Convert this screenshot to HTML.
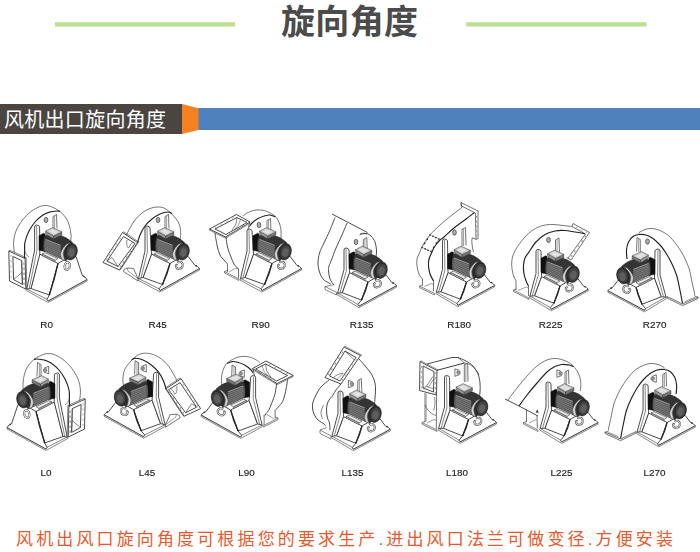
<!DOCTYPE html>
<html><head><meta charset="utf-8"><title>旋向角度</title>
<style>
html,body{margin:0;padding:0;background:#fff;}
body{width:700px;height:552px;overflow:hidden;font-family:"Liberation Sans",sans-serif;}
svg{display:block}
svg text{font-family:"Liberation Sans",sans-serif;font-size:9.9px;fill:#222;stroke:#222;stroke-width:0.15px;}
</style></head><body>
<svg width="700" height="552" viewBox="0 0 700 552">
<rect width="700" height="552" fill="#fff"/>
<rect x="55" y="22.2" width="180" height="4.3" fill="#bce091"/>
<rect x="466.3" y="22.2" width="180.2" height="4.3" fill="#bce091"/>
<text x="349.5" y="33.5" text-anchor="middle" textLength="137" lengthAdjust="spacing" style="font-family:'Liberation Sans','Noto Sans CJK SC',sans-serif;font-size:34px;font-weight:bold;fill:#4b4b4b;stroke:none;">旋向角度</text>
<rect x="198" y="108" width="502" height="22" fill="#4f81bd"/>
<rect x="0" y="104" width="182.5" height="30" fill="#4a4541"/>
<path d="M182 104 L198.5 108.2 L198.5 130 L182 134Z" fill="#f5821f"/>
<text x="4" y="127.3" textLength="162" lengthAdjust="spacing" style="font-family:'Liberation Sans','Noto Sans CJK SC',sans-serif;font-size:20px;fill:#fff;stroke:none;">风机出口旋向角度</text>
<text x="16" y="544.5" textLength="657" lengthAdjust="spacing" style="font-family:'Liberation Sans','Noto Sans CJK SC',sans-serif;font-size:17px;fill:#e9592b;stroke:none;">风机出风口旋向角度可根据您的要求生产.进出风口法兰可做变径.方便安装</text>
<g style="filter:blur(0.42px)"><g id="R0"><path d="M14.3 252.5C14.2 250.8 13.3 245.6 13.6 242.0C13.9 238.4 14.5 234.7 16.0 231.0C17.5 227.3 20.0 223.2 22.5 220.0C25.0 216.8 28.1 213.8 31.0 211.5C33.9 209.2 37.5 207.5 40.0 206.5C42.5 205.5 44.0 205.4 46.0 205.5C48.0 205.6 49.7 206.0 52.0 207.0C54.3 208.0 57.7 209.7 60.0 211.5C62.3 213.3 64.4 215.6 66.0 218.0C67.6 220.4 68.7 223.2 69.5 226.0C70.3 228.8 70.8 232.2 71.0 235.0C71.2 237.8 70.6 241.7 70.5 243.0 L70 246 L40 250 L24.5 258.5 Z" fill="#fff" stroke="none" stroke-width="0.9" />
<path d="M14.3 252.5C14.2 250.8 13.3 245.6 13.6 242.0C13.9 238.4 14.5 234.7 16.0 231.0C17.5 227.3 20.0 223.2 22.5 220.0C25.0 216.8 28.1 213.8 31.0 211.5C33.9 209.2 37.5 207.5 40.0 206.5C42.5 205.5 44.0 205.4 46.0 205.5C48.0 205.6 49.7 206.0 52.0 207.0C54.3 208.0 57.7 209.7 60.0 211.5C62.3 213.3 64.4 215.6 66.0 218.0C67.6 220.4 68.7 223.2 69.5 226.0C70.3 228.8 70.8 232.2 71.0 235.0C71.2 237.8 70.6 241.7 70.5 243.0" fill="none" stroke="#4a4a4a" stroke-width="0.75" />
<path d="M24.5 258.5C24.5 257.1 24.5 252.8 24.6 250.0C24.7 247.2 24.3 245.2 25.0 242.0C25.7 238.8 27.3 234.3 29.0 231.0C30.7 227.7 32.7 224.7 35.0 222.0C37.3 219.3 40.5 216.7 43.0 215.0C45.5 213.3 47.7 212.7 50.0 212.0C52.3 211.3 55.3 211.1 57.0 211.0C58.7 210.9 59.5 211.4 60.0 211.5" fill="none" stroke="#222" stroke-width="1.15" />
<path d="M53.0 229.0 L53.0 216.5 L56.5 214.5 L57.0 228.5" fill="none" stroke="#383838" stroke-width="0.7" /><path d="M54.6 229.0 L54.6 216.0" fill="none" stroke="#383838" stroke-width="0.5" />
<ellipse cx="46" cy="220" rx="1.9" ry="2.7" fill="#aaa" stroke="#333" stroke-width="0.6"/>
<path d="M8.8 251.1 L25.1 258.6 L25.8 289.1 L9.5 281.0Z" fill="#fff" stroke="#383838" stroke-width="0.9" />
<path d="M12.9 256.5 L21.7 260.6 L22.4 284.4 L13.6 279.6Z" fill="#fff" stroke="#383838" stroke-width="0.9" />
<path d="M13.6 279.6 L21.9 272.5 L22.4 284.4" fill="none" stroke="#383838" stroke-width="0.6" />
<path d="M21.9 272.5 L21.7 260.6" fill="none" stroke="#383838" stroke-width="0.5" />
<path d="M8.8 251.1 L10.0 250.3 L26.2 257.7 L25.1 258.6" fill="none" stroke="#383838" stroke-width="0.6" />
<path d="M26.2 257.7 L26.8 288.4 L25.8 289.1" fill="none" stroke="#383838" stroke-width="0.6" />
<rect x="23.2" y="262.5" width="1.6" height="2.4" fill="#aaa"/>
<rect x="23.2" y="267.5" width="1.6" height="2.4" fill="#aaa"/>
<rect x="23.2" y="272.5" width="1.6" height="2.4" fill="#aaa"/>
<rect x="23.2" y="277.5" width="1.6" height="2.4" fill="#aaa"/>
<rect x="23.2" y="282.5" width="1.6" height="2.4" fill="#aaa"/>
<rect x="10.3" y="255.0" width="1.4" height="2.2" fill="#ccc"/>
<rect x="10.3" y="260.2" width="1.4" height="2.2" fill="#ccc"/>
<rect x="10.3" y="265.4" width="1.4" height="2.2" fill="#ccc"/>
<rect x="10.3" y="270.6" width="1.4" height="2.2" fill="#ccc"/>
<rect x="10.3" y="275.8" width="1.4" height="2.2" fill="#ccc"/>
<path d="M24.5 250 C 25.5 254 27 256 29 257" fill="none" stroke="#383838" stroke-width="0.6" /><g transform="translate(0 0)"><path d="M26.8 289.0 L47.0 299.3 L48.0 301.0 L87.0 279.5 L87.0 281.0 L48.0 302.5 L26.3 290.5Z" fill="#fff" stroke="#383838" stroke-width="0.6" />
<path d="M39.5 254.0 L58.0 263.5 L49.3 295.0 L31.0 288.5Z" fill="#fff" stroke="#383838" stroke-width="0.9" />
<path d="M58.0 263.5 L64.0 260.0 L76.0 256.5 L82.5 276.0 L85.0 277.0 L87.0 279.5 L48.0 301.0 L47.0 299.3 L49.3 295.0Z" fill="#fff" stroke="#383838" stroke-width="0.9" />
<path d="M58.0 263.5 L54.2 279.2 L49.3 295.0" fill="none" stroke="#222" stroke-width="1.2" />
<path d="M34.6 227.0 L35.0 225.6 L36.6 225.0 L38.8 225.6 L39.6 227.0 L39.8 254.0 L31.0 288.5 L26.8 289.0 L34.6 250.0Z" fill="#fff" stroke="#383838" stroke-width="0.9" />
<path d="M36.6 226.0 L37.0 250.0 L29.3 288.3" fill="none" stroke="#383838" stroke-width="0.6" />
<path d="M42.0 254.0 L45.0 252.5 L58.0 258.5 L55.0 260.5Z" fill="#e4e4e4" stroke="#383838" stroke-width="0.6" />
<path d="M42.0 254.0 L55.0 260.5 L55.0 262.0 L42.0 255.5Z" fill="#bbb" stroke="#383838" stroke-width="0.5" />
<ellipse cx="67.2" cy="266" rx="2.6" ry="3.9" transform="rotate(12 67.2 266)" fill="none" stroke="#555" stroke-width="2.1"/>
<ellipse cx="67.2" cy="266" rx="2.6" ry="3.9" transform="rotate(12 67.2 266)" fill="none" stroke="#fff" stroke-width="0.9"/>
<circle cx="83.7" cy="276.2" r="0.8" fill="#333"/>
<circle cx="49.5" cy="294.4" r="0.8" fill="#222"/>
<path d="M39.0 235.8 L43.5 233.3 L45.0 234.0 L45.0 251.6 L39.0 250.2Z" fill="#111" stroke="#111" stroke-width="0.5" />
<path d="M44.2 237.3 C44.8 235.8 46 235 48 235 L59.7 235.6 C63 236 68 238.5 72.5 242.5 L66 261 L61.9 259.2 L43.8 250.6 C43.2 247 43.4 241 44.2 237.3Z" fill="#343434" stroke="#222" stroke-width="0.6" />
<path d="M44.4 239.2 L61 245.6 C60.2 250 60.4 255 61.9 259.2 L43.8 250.6 C43.4 247 43.6 242 44.4 239.2Z" fill="#585858" stroke="none" stroke-width="0.9" />
<path d="M45.2 241.2 L60.8 247.5" stroke="#9c9c9c" stroke-width="0.5" fill="none"/>
<path d="M45.2 242.9 L60.8 249.6" stroke="#9c9c9c" stroke-width="0.5" fill="none"/>
<path d="M45.2 244.6 L60.8 251.7" stroke="#9c9c9c" stroke-width="0.5" fill="none"/>
<path d="M45.2 246.4 L60.8 253.9" stroke="#9c9c9c" stroke-width="0.5" fill="none"/>
<path d="M45.2 248.1 L60.8 256.0" stroke="#9c9c9c" stroke-width="0.5" fill="none"/>
<path d="M45.2 249.8 L60.8 258.1" stroke="#9c9c9c" stroke-width="0.5" fill="none"/>
<path d="M45.4 239.4 L60.6 245.3" stroke="#c4c4c4" stroke-width="0.7" fill="none"/>
<path d="M66.6 244.3C65.9 245.1 63.6 247.3 62.6 248.9C61.6 250.5 60.8 252.3 60.7 254.0C60.6 255.7 61.7 258.3 61.9 259.2 L65.0 260.6C64.8 260.1 64.2 259.0 63.9 257.6C63.6 256.2 63.0 254.2 63.3 252.5C63.6 250.8 64.4 249.1 65.5 247.5C66.6 245.9 69.2 243.8 70.0 243.0Z" fill="#d4d4d4" stroke="#555" stroke-width="0.4" />
<ellipse cx="71.1" cy="251.7" rx="6.1" ry="8.4" transform="rotate(14 71.1 251.7)" fill="#2f2f2f" stroke="#222" stroke-width="0.5"/>
<ellipse cx="71.5" cy="252" rx="5.2" ry="7" transform="rotate(14 71.5 252)" fill="#444" stroke="#262626" stroke-width="0.5"/>
<ellipse cx="71.5" cy="252.6" rx="3.1" ry="4.3" transform="rotate(14 71.5 252.6)" fill="#5e5e5e" stroke="none"/>
<path d="M45.6 231.2 L53.6 235.9 L53.6 238.9 L45.6 234.2Z" fill="#9a9a9a" stroke="#383838" stroke-width="0.5" />
<path d="M53.6 235.9 L61.9 231.9 L61.9 234.9 L53.6 238.9Z" fill="#777" stroke="#383838" stroke-width="0.5" />
<path d="M45.6 231.2 L52.5 227.7 L61.9 231.9 L53.6 235.9Z" fill="#e2e2e2" stroke="#383838" stroke-width="0.6" />
<path d="M47.3 231.2 L52.5 228.7 L60.0 231.9 L53.7 234.9Z" fill="none" stroke="#999" stroke-width="0.35" /></g></g>
<g id="R45"><path d="M126.5 235.0C127.1 233.8 128.6 230.5 130.0 228.0C131.4 225.5 133.0 222.5 135.0 220.0C137.0 217.5 139.5 214.9 142.0 213.0C144.5 211.1 147.3 209.5 150.0 208.5C152.7 207.5 155.5 207.0 158.0 207.0C160.5 207.0 162.7 207.3 165.0 208.5C167.3 209.7 169.4 211.5 171.7 213.9C174.0 216.3 177.2 219.8 178.7 222.9C180.2 226.1 180.5 229.7 180.7 232.8C180.9 236.0 179.9 240.3 179.7 241.8 L170 250 L146 250 L137.5 243 Z" fill="#fff" stroke="none" stroke-width="0.9" />
<path d="M126.5 235.0C127.1 233.8 128.6 230.5 130.0 228.0C131.4 225.5 133.0 222.5 135.0 220.0C137.0 217.5 139.5 214.9 142.0 213.0C144.5 211.1 147.3 209.5 150.0 208.5C152.7 207.5 155.5 207.0 158.0 207.0C160.5 207.0 162.7 207.3 165.0 208.5C167.3 209.7 169.4 211.5 171.7 213.9C174.0 216.3 177.2 219.8 178.7 222.9C180.2 226.1 180.5 229.7 180.7 232.8C180.9 236.0 179.9 240.3 179.7 241.8" fill="none" stroke="#4a4a4a" stroke-width="0.75" />
<path d="M137.5 243.0C137.9 241.7 138.8 237.8 140.0 235.0C141.2 232.2 143.0 228.7 145.0 226.0C147.0 223.3 149.5 221.0 152.0 219.0C154.5 217.0 157.3 215.2 160.0 214.0C162.7 212.8 166.0 212.1 168.0 212.0C170.0 211.9 171.3 213.4 172.0 213.7" fill="none" stroke="#222" stroke-width="1.15" />
<path d="M165.0 229.0 L165.0 216.5 L168.5 214.5 L169.0 228.5" fill="none" stroke="#383838" stroke-width="0.7" /><path d="M166.6 229.0 L166.6 216.0" fill="none" stroke="#383838" stroke-width="0.5" />
<ellipse cx="158" cy="220" rx="1.9" ry="2.7" fill="#aaa" stroke="#333" stroke-width="0.6"/>
<path d="M122.5 232.5 L137.5 242.5 L119.5 270.0 L103.0 262.5Z" fill="#fff" stroke="#383838" stroke-width="0.9" />
<path d="M123.5 236.5 L135.0 243.5 L118.0 266.5 L107.0 261.0Z" fill="#fff" stroke="#383838" stroke-width="0.9" />
<path d="M122.5 232.5 L123.6 231.8 L138.6 241.8 L137.5 242.5" fill="none" stroke="#383838" stroke-width="0.6" />
<path d="M138.6 241.8 L120.6 269.5 L119.5 270.0" fill="none" stroke="#383838" stroke-width="0.6" />
<path d="M107.0 261.0 L112.0 257.5 L118.0 266.5" fill="none" stroke="#383838" stroke-width="0.6" />
<path d="M127 240 C126 244 127.5 248 128.8 248 C130 246 130.5 243.5 133 242.3" fill="none" stroke="#383838" stroke-width="0.6" />
<rect x="119.4" y="237.4" width="1.5" height="2" fill="#bbb"/>
<rect x="133.1" y="245.8" width="1.5" height="2" fill="#aaa"/>
<rect x="115.8" y="242.9" width="1.5" height="2" fill="#bbb"/>
<rect x="129.6" y="250.9" width="1.5" height="2" fill="#aaa"/>
<rect x="112.2" y="248.4" width="1.5" height="2" fill="#bbb"/>
<rect x="126.1" y="256.0" width="1.5" height="2" fill="#aaa"/>
<rect x="108.6" y="253.9" width="1.5" height="2" fill="#bbb"/>
<rect x="122.5" y="261.1" width="1.5" height="2" fill="#aaa"/>
<rect x="105.5" y="258.6" width="1.5" height="2" fill="#bbb"/>
<rect x="119.5" y="265.5" width="1.5" height="2" fill="#aaa"/>
<path d="M124.0 269.5 L127.0 268.0 L133.5 268.5 L138.0 278.5 L138.0 281.0 L123.5 271.5Z" fill="#fff" stroke="#383838" stroke-width="0.7" />
<path d="M127.0 268.0 L128.0 271.0 L138.0 278.5" fill="none" stroke="#383838" stroke-width="0.5" /><g transform="translate(112 0)"><path d="M26.5 278.5 L47.0 288.8 L48.0 290.5 L87.5 268.5 L87.5 270.0 L48.0 292.0 L26.0 280.0Z" fill="#fff" stroke="#383838" stroke-width="0.6" />
<path d="M39.5 254.0 L58.0 263.5 L50.5 284.5 L31.0 277.5Z" fill="#fff" stroke="#383838" stroke-width="0.9" />
<path d="M58.0 263.5 L64.0 260.0 L76.0 256.3 L83.0 265.5 L85.5 266.5 L87.5 268.5 L48.0 290.5 L47.0 288.8 L50.5 284.5Z" fill="#fff" stroke="#383838" stroke-width="0.9" />
<path d="M58.0 263.5 L54.9 274.0 L50.5 284.5" fill="none" stroke="#222" stroke-width="1.2" />
<path d="M33.0 228.0 L33.4 226.6 L35.0 226.0 L37.2 226.6 L38.0 228.0 L39.5 254.0 L31.0 277.5 L26.5 278.5 L33.0 251.0Z" fill="#fff" stroke="#383838" stroke-width="0.9" />
<path d="M35.0 227.0 L35.4 252.0 L29.0 277.8" fill="none" stroke="#383838" stroke-width="0.6" />
<path d="M42.0 254.0 L45.0 252.5 L58.0 258.5 L55.0 260.5Z" fill="#e4e4e4" stroke="#383838" stroke-width="0.6" />
<path d="M42.0 254.0 L55.0 260.5 L55.0 262.0 L42.0 255.5Z" fill="#bbb" stroke="#383838" stroke-width="0.5" />
<path d="M66.2 262.2 C69.5 260.8 71.6 263.5 70.6 266.3 C69.6 269.2 65.6 269.8 64.2 267.2 C63.7 266.2 64 265.2 64.8 264.8" fill="none" stroke="#555" stroke-width="2.1" stroke-linecap="round"/>
<path d="M66.2 262.2 C69.5 260.8 71.6 263.5 70.6 266.3 C69.6 269.2 65.6 269.8 64.2 267.2 C63.7 266.2 64 265.2 64.8 264.8" fill="none" stroke="#fff" stroke-width="0.9" stroke-linecap="round"/>
<circle cx="84.2" cy="265.7" r="0.8" fill="#333"/>
<circle cx="50.7" cy="283.9" r="0.8" fill="#222"/>
<path d="M39.0 235.8 L43.5 233.3 L45.0 234.0 L45.0 251.6 L39.0 250.2Z" fill="#111" stroke="#111" stroke-width="0.5" />
<path d="M44.2 237.3 C44.8 235.8 46 235 48 235 L59.7 235.6 C63 236 68 238.5 72.5 242.5 L66 261 L61.9 259.2 L43.8 250.6 C43.2 247 43.4 241 44.2 237.3Z" fill="#343434" stroke="#222" stroke-width="0.6" />
<path d="M44.4 239.2 L61 245.6 C60.2 250 60.4 255 61.9 259.2 L43.8 250.6 C43.4 247 43.6 242 44.4 239.2Z" fill="#585858" stroke="none" stroke-width="0.9" />
<path d="M45.2 241.2 L60.8 247.5" stroke="#9c9c9c" stroke-width="0.5" fill="none"/>
<path d="M45.2 242.9 L60.8 249.6" stroke="#9c9c9c" stroke-width="0.5" fill="none"/>
<path d="M45.2 244.6 L60.8 251.7" stroke="#9c9c9c" stroke-width="0.5" fill="none"/>
<path d="M45.2 246.4 L60.8 253.9" stroke="#9c9c9c" stroke-width="0.5" fill="none"/>
<path d="M45.2 248.1 L60.8 256.0" stroke="#9c9c9c" stroke-width="0.5" fill="none"/>
<path d="M45.2 249.8 L60.8 258.1" stroke="#9c9c9c" stroke-width="0.5" fill="none"/>
<path d="M45.4 239.4 L60.6 245.3" stroke="#c4c4c4" stroke-width="0.7" fill="none"/>
<path d="M66.6 244.3C65.9 245.1 63.6 247.3 62.6 248.9C61.6 250.5 60.8 252.3 60.7 254.0C60.6 255.7 61.7 258.3 61.9 259.2 L65.0 260.6C64.8 260.1 64.2 259.0 63.9 257.6C63.6 256.2 63.0 254.2 63.3 252.5C63.6 250.8 64.4 249.1 65.5 247.5C66.6 245.9 69.2 243.8 70.0 243.0Z" fill="#d4d4d4" stroke="#555" stroke-width="0.4" />
<ellipse cx="71.1" cy="251.7" rx="6.1" ry="8.4" transform="rotate(14 71.1 251.7)" fill="#2f2f2f" stroke="#222" stroke-width="0.5"/>
<ellipse cx="71.5" cy="252" rx="5.2" ry="7" transform="rotate(14 71.5 252)" fill="#444" stroke="#262626" stroke-width="0.5"/>
<ellipse cx="71.5" cy="252.6" rx="3.1" ry="4.3" transform="rotate(14 71.5 252.6)" fill="#5e5e5e" stroke="none"/>
<path d="M45.6 231.2 L53.6 235.9 L53.6 238.9 L45.6 234.2Z" fill="#9a9a9a" stroke="#383838" stroke-width="0.5" />
<path d="M53.6 235.9 L61.9 231.9 L61.9 234.9 L53.6 238.9Z" fill="#777" stroke="#383838" stroke-width="0.5" />
<path d="M45.6 231.2 L52.5 227.7 L61.9 231.9 L53.6 235.9Z" fill="#e2e2e2" stroke="#383838" stroke-width="0.6" />
<path d="M47.3 231.2 L52.5 228.7 L60.0 231.9 L53.7 234.9Z" fill="none" stroke="#999" stroke-width="0.35" /></g></g>
<g id="R90"><path d="M243.0 216.0C243.8 215.4 245.8 213.5 248.0 212.5C250.2 211.5 253.3 210.3 256.0 210.0C258.7 209.7 261.7 210.0 264.0 210.5C266.3 211.0 267.9 211.8 270.0 213.0C272.1 214.2 274.9 215.4 276.7 217.9C278.5 220.4 280.0 224.4 280.7 227.9C281.4 231.4 280.9 237.0 281.0 238.8 L270 250 L248 250 L240 225 Z" fill="#fff" stroke="none" stroke-width="0.9" />
<path d="M243.0 216.0C243.8 215.4 245.8 213.5 248.0 212.5C250.2 211.5 253.3 210.3 256.0 210.0C258.7 209.7 261.7 210.0 264.0 210.5C266.3 211.0 267.9 211.8 270.0 213.0C272.1 214.2 274.9 215.4 276.7 217.9C278.5 220.4 280.0 224.4 280.7 227.9C281.4 231.4 280.9 237.0 281.0 238.8" fill="none" stroke="#4a4a4a" stroke-width="0.75" />
<path d="M248.0 228.5C248.7 227.6 250.3 224.7 252.0 223.0C253.7 221.3 255.8 219.7 258.0 218.5C260.2 217.3 263.0 216.4 265.0 215.8C267.0 215.2 268.2 214.8 270.0 215.0C271.8 215.2 274.6 216.5 275.5 216.8" fill="none" stroke="#222" stroke-width="1.15" />
<path d="M267.0 233.0 L267.0 220.5 L270.5 218.5 L271.0 232.5" fill="none" stroke="#383838" stroke-width="0.7" /><path d="M268.6 233.0 L268.6 220.0" fill="none" stroke="#383838" stroke-width="0.5" />
<ellipse cx="259" cy="225" rx="1.9" ry="2.7" fill="#aaa" stroke="#333" stroke-width="0.6"/>
<path d="M215.0 233.0C215.3 235.0 216.2 241.3 217.0 245.0C217.8 248.7 218.8 252.5 220.0 255.0C221.2 257.5 222.8 258.5 224.0 260.0C225.2 261.5 226.9 263.3 227.5 264.0 L238.5 269 L248 260 L249.5 223 L226 237 Z" fill="#fff" stroke="none" stroke-width="0.9" />
<path d="M215.0 233.0C215.3 235.0 216.2 241.3 217.0 245.0C217.8 248.7 218.8 252.5 220.0 255.0C221.2 257.5 222.8 258.5 224.0 260.0C225.2 261.5 226.9 263.3 227.5 264.0" fill="none" stroke="#383838" stroke-width="0.9" />
<path d="M226.0 237.0C226.2 238.7 226.7 243.7 227.5 247.0C228.3 250.3 229.9 254.2 231.0 257.0C232.1 259.8 232.8 262.0 234.0 264.0C235.2 266.0 237.8 268.2 238.5 269.0" fill="none" stroke="#383838" stroke-width="0.9" />
<path d="M249.5 223.0 L248.0 229.5" fill="none" stroke="#383838" stroke-width="0.7" />
<path d="M227.5 264.0 L227.5 272.0" fill="none" stroke="#383838" stroke-width="0.7" />
<path d="M238.5 269.0 L238.5 278.5" fill="none" stroke="#383838" stroke-width="0.7" />
<path d="M224.5 271.5 L227.5 270.3" fill="none" stroke="#383838" stroke-width="0.6" />
<path d="M224.5 271.5 L239.0 279.0 L239.0 280.5 L224.5 273.0Z" fill="#fff" stroke="#383838" stroke-width="0.6" />
<path d="M229.0 272.0 L236.0 268.0 L238.5 269.0" fill="none" stroke="#383838" stroke-width="0.5" />
<path d="M209.5 229.0 L236.5 214.5 L250.0 222.0 L225.5 237.0Z" fill="#fff" stroke="#383838" stroke-width="0.9" />
<path d="M215.0 229.0 L237.0 217.5 L247.0 222.5 L226.0 234.5Z" fill="#fff" stroke="#383838" stroke-width="0.9" />
<path d="M209.5 229.0 L209.6 230.2 L225.5 238.2 L250.0 223.2 L250.0 222.0" fill="none" stroke="#383838" stroke-width="0.6" />
<path d="M237.0 217.5 L236.0 224.0 L232.0 230.5" fill="none" stroke="#383838" stroke-width="0.6" />
<path d="M240.5 219.3 L238.5 225.0 L234.5 229.5" fill="none" stroke="#383838" stroke-width="0.5" />
<rect x="214.7" y="226.5" width="2" height="1.2" fill="#bbb"/>
<rect x="228.4" y="233.2" width="2" height="1.2" fill="#bbb"/>
<rect x="220.3" y="223.5" width="2" height="1.2" fill="#bbb"/>
<rect x="233.6" y="230.1" width="2" height="1.2" fill="#bbb"/>
<rect x="226.2" y="220.3" width="2" height="1.2" fill="#bbb"/>
<rect x="238.9" y="226.8" width="2" height="1.2" fill="#bbb"/>
<rect x="231.8" y="217.3" width="2" height="1.2" fill="#bbb"/>
<rect x="244.1" y="223.7" width="2" height="1.2" fill="#bbb"/><g transform="translate(214 0)"><path d="M26.5 278.5 L47.0 288.8 L48.0 290.5 L87.5 268.5 L87.5 270.0 L48.0 292.0 L26.0 280.0Z" fill="#fff" stroke="#383838" stroke-width="0.6" />
<path d="M39.5 254.0 L58.0 263.5 L50.5 284.5 L31.0 277.5Z" fill="#fff" stroke="#383838" stroke-width="0.9" />
<path d="M58.0 263.5 L64.0 260.0 L76.0 256.3 L83.0 265.5 L85.5 266.5 L87.5 268.5 L48.0 290.5 L47.0 288.8 L50.5 284.5Z" fill="#fff" stroke="#383838" stroke-width="0.9" />
<path d="M58.0 263.5 L54.9 274.0 L50.5 284.5" fill="none" stroke="#222" stroke-width="1.2" />
<path d="M33.0 231.0 L33.4 229.6 L35.0 229.0 L37.2 229.6 L38.0 231.0 L39.5 254.0 L31.0 277.5 L26.5 278.5 L33.0 251.0Z" fill="#fff" stroke="#383838" stroke-width="0.9" />
<path d="M35.0 230.0 L35.4 252.0 L29.0 277.8" fill="none" stroke="#383838" stroke-width="0.6" />
<path d="M42.0 254.0 L45.0 252.5 L58.0 258.5 L55.0 260.5Z" fill="#e4e4e4" stroke="#383838" stroke-width="0.6" />
<path d="M42.0 254.0 L55.0 260.5 L55.0 262.0 L42.0 255.5Z" fill="#bbb" stroke="#383838" stroke-width="0.5" />
<path d="M66.2 262.2 C69.5 260.8 71.6 263.5 70.6 266.3 C69.6 269.2 65.6 269.8 64.2 267.2 C63.7 266.2 64 265.2 64.8 264.8" fill="none" stroke="#555" stroke-width="2.1" stroke-linecap="round"/>
<path d="M66.2 262.2 C69.5 260.8 71.6 263.5 70.6 266.3 C69.6 269.2 65.6 269.8 64.2 267.2 C63.7 266.2 64 265.2 64.8 264.8" fill="none" stroke="#fff" stroke-width="0.9" stroke-linecap="round"/>
<circle cx="84.2" cy="265.7" r="0.8" fill="#333"/>
<circle cx="50.7" cy="283.9" r="0.8" fill="#222"/>
<path d="M39.0 235.8 L43.5 233.3 L45.0 234.0 L45.0 251.6 L39.0 250.2Z" fill="#111" stroke="#111" stroke-width="0.5" />
<path d="M44.2 237.3 C44.8 235.8 46 235 48 235 L59.7 235.6 C63 236 68 238.5 72.5 242.5 L66 261 L61.9 259.2 L43.8 250.6 C43.2 247 43.4 241 44.2 237.3Z" fill="#343434" stroke="#222" stroke-width="0.6" />
<path d="M44.4 239.2 L61 245.6 C60.2 250 60.4 255 61.9 259.2 L43.8 250.6 C43.4 247 43.6 242 44.4 239.2Z" fill="#585858" stroke="none" stroke-width="0.9" />
<path d="M45.2 241.2 L60.8 247.5" stroke="#9c9c9c" stroke-width="0.5" fill="none"/>
<path d="M45.2 242.9 L60.8 249.6" stroke="#9c9c9c" stroke-width="0.5" fill="none"/>
<path d="M45.2 244.6 L60.8 251.7" stroke="#9c9c9c" stroke-width="0.5" fill="none"/>
<path d="M45.2 246.4 L60.8 253.9" stroke="#9c9c9c" stroke-width="0.5" fill="none"/>
<path d="M45.2 248.1 L60.8 256.0" stroke="#9c9c9c" stroke-width="0.5" fill="none"/>
<path d="M45.2 249.8 L60.8 258.1" stroke="#9c9c9c" stroke-width="0.5" fill="none"/>
<path d="M45.4 239.4 L60.6 245.3" stroke="#c4c4c4" stroke-width="0.7" fill="none"/>
<path d="M66.6 244.3C65.9 245.1 63.6 247.3 62.6 248.9C61.6 250.5 60.8 252.3 60.7 254.0C60.6 255.7 61.7 258.3 61.9 259.2 L65.0 260.6C64.8 260.1 64.2 259.0 63.9 257.6C63.6 256.2 63.0 254.2 63.3 252.5C63.6 250.8 64.4 249.1 65.5 247.5C66.6 245.9 69.2 243.8 70.0 243.0Z" fill="#d4d4d4" stroke="#555" stroke-width="0.4" />
<ellipse cx="71.1" cy="251.7" rx="6.1" ry="8.4" transform="rotate(14 71.1 251.7)" fill="#2f2f2f" stroke="#222" stroke-width="0.5"/>
<ellipse cx="71.5" cy="252" rx="5.2" ry="7" transform="rotate(14 71.5 252)" fill="#444" stroke="#262626" stroke-width="0.5"/>
<ellipse cx="71.5" cy="252.6" rx="3.1" ry="4.3" transform="rotate(14 71.5 252.6)" fill="#5e5e5e" stroke="none"/>
<path d="M45.6 231.2 L53.6 235.9 L53.6 238.9 L45.6 234.2Z" fill="#9a9a9a" stroke="#383838" stroke-width="0.5" />
<path d="M53.6 235.9 L61.9 231.9 L61.9 234.9 L53.6 238.9Z" fill="#777" stroke="#383838" stroke-width="0.5" />
<path d="M45.6 231.2 L52.5 227.7 L61.9 231.9 L53.6 235.9Z" fill="#e2e2e2" stroke="#383838" stroke-width="0.6" />
<path d="M47.3 231.2 L52.5 228.7 L60.0 231.9 L53.7 234.9Z" fill="none" stroke="#999" stroke-width="0.35" /></g></g>
<g id="R135"><path d="M335.0 217.5C334.2 219.6 331.8 225.8 330.0 230.0C328.2 234.2 325.8 239.2 324.0 243.0C322.2 246.8 320.5 249.7 319.5 253.0C318.5 256.3 318.0 259.8 318.0 263.0C318.0 266.2 318.7 269.3 319.5 272.0C320.3 274.7 321.6 277.2 323.0 279.0C324.4 280.8 326.7 281.7 328.0 282.5C329.3 283.3 330.5 283.8 331.0 284.0 L334 285 L350 280 L376 257 L367.5 232.5 L347 222 Z" fill="#fff" stroke="none" stroke-width="0.9" />
<path d="M335.0 217.5C334.2 219.6 331.8 225.8 330.0 230.0C328.2 234.2 325.8 239.2 324.0 243.0C322.2 246.8 320.5 249.7 319.5 253.0C318.5 256.3 318.0 259.8 318.0 263.0C318.0 266.2 318.7 269.3 319.5 272.0C320.3 274.7 321.6 277.2 323.0 279.0C324.4 280.8 326.7 281.7 328.0 282.5C329.3 283.3 330.5 283.8 331.0 284.0" fill="none" stroke="#383838" stroke-width="0.9" />
<path d="M347.0 223.0C346.2 225.0 343.8 230.8 342.0 235.0C340.2 239.2 337.8 243.8 336.0 248.0C334.2 252.2 332.7 257.0 331.5 260.0C330.3 263.0 329.5 264.2 329.0 266.0C328.5 267.8 328.3 268.8 328.5 271.0C328.7 273.2 329.1 276.7 330.0 279.0C330.9 281.3 333.3 284.0 334.0 285.0" fill="none" stroke="#383838" stroke-width="0.9" />
<path d="M332.0 214.0 L367.5 232.5" fill="none" stroke="#383838" stroke-width="0.9" />
<path d="M360.0 234.3C361.0 234.2 364.2 233.2 366.0 233.5C367.8 233.8 369.5 234.6 371.0 236.0C372.5 237.4 374.1 239.7 375.0 242.0C375.9 244.3 376.3 247.5 376.5 250.0C376.7 252.5 376.1 255.8 376.0 257.0" fill="none" stroke="#383838" stroke-width="0.9" />
<path d="M359.5 235 C360.5 233.2 364 232.6 367.3 234" fill="none" stroke="#383838" stroke-width="0.7" />
<ellipse cx="356" cy="242" rx="1.9" ry="2.7" fill="#aaa" stroke="#333" stroke-width="0.6"/>
<path d="M363.3 252.0 L363.3 239.5 L366.8 237.5 L367.3 251.5" fill="none" stroke="#383838" stroke-width="0.7" /><path d="M364.9 252.0 L364.9 239.0" fill="none" stroke="#383838" stroke-width="0.5" />
<path d="M325.0 286.5 L333.5 284.8" fill="none" stroke="#383838" stroke-width="0.6" />
<path d="M325.0 286.5 L336.5 292.3 L336.5 295.0 L325.0 289.5Z" fill="#fff" stroke="#383838" stroke-width="0.6" /><g transform="translate(310 18.5)"><path d="M27.6 274.6 L48.0 285.9 L49.0 287.6 L86.5 267.2 L86.5 268.7 L49.0 289.1 L27.1 276.1Z" fill="#fff" stroke="#383838" stroke-width="0.6" />
<path d="M39.5 254.0 L58.0 263.5 L51.5 281.6 L32.2 274.2Z" fill="#fff" stroke="#383838" stroke-width="0.9" />
<path d="M58.0 263.5 L64.0 260.0 L76.0 256.3 L82.0 264.2 L84.5 265.2 L86.5 267.2 L49.0 287.6 L48.0 285.9 L51.5 281.6Z" fill="#fff" stroke="#383838" stroke-width="0.9" />
<path d="M58.0 263.5 L55.4 272.5 L51.5 281.6" fill="none" stroke="#222" stroke-width="1.2" />
<path d="M34.0 231.5 L34.4 230.1 L36.0 229.5 L38.2 230.1 L39.0 231.5 L39.5 254.0 L32.2 274.2 L27.6 274.6 L34.0 251.0Z" fill="#fff" stroke="#383838" stroke-width="0.9" />
<path d="M36.0 230.5 L36.4 252.0 L30.0 274.2" fill="none" stroke="#383838" stroke-width="0.6" />
<path d="M42.0 254.0 L45.0 252.5 L58.0 258.5 L55.0 260.5Z" fill="#e4e4e4" stroke="#383838" stroke-width="0.6" />
<path d="M42.0 254.0 L55.0 260.5 L55.0 262.0 L42.0 255.5Z" fill="#bbb" stroke="#383838" stroke-width="0.5" />
<path d="M66.2 262.2 C69.5 260.8 71.6 263.5 70.6 266.3 C69.6 269.2 65.6 269.8 64.2 267.2 C63.7 266.2 64 265.2 64.8 264.8" fill="none" stroke="#555" stroke-width="2.1" stroke-linecap="round"/>
<path d="M66.2 262.2 C69.5 260.8 71.6 263.5 70.6 266.3 C69.6 269.2 65.6 269.8 64.2 267.2 C63.7 266.2 64 265.2 64.8 264.8" fill="none" stroke="#fff" stroke-width="0.9" stroke-linecap="round"/>
<circle cx="83.2" cy="264.4" r="0.8" fill="#333"/>
<circle cx="51.8" cy="281.0" r="0.8" fill="#222"/>
<path d="M39.0 235.8 L43.5 233.3 L45.0 234.0 L45.0 251.6 L39.0 250.2Z" fill="#111" stroke="#111" stroke-width="0.5" />
<path d="M44.2 237.3 C44.8 235.8 46 235 48 235 L59.7 235.6 C63 236 68 238.5 72.5 242.5 L66 261 L61.9 259.2 L43.8 250.6 C43.2 247 43.4 241 44.2 237.3Z" fill="#343434" stroke="#222" stroke-width="0.6" />
<path d="M44.4 239.2 L61 245.6 C60.2 250 60.4 255 61.9 259.2 L43.8 250.6 C43.4 247 43.6 242 44.4 239.2Z" fill="#585858" stroke="none" stroke-width="0.9" />
<path d="M45.2 241.2 L60.8 247.5" stroke="#9c9c9c" stroke-width="0.5" fill="none"/>
<path d="M45.2 242.9 L60.8 249.6" stroke="#9c9c9c" stroke-width="0.5" fill="none"/>
<path d="M45.2 244.6 L60.8 251.7" stroke="#9c9c9c" stroke-width="0.5" fill="none"/>
<path d="M45.2 246.4 L60.8 253.9" stroke="#9c9c9c" stroke-width="0.5" fill="none"/>
<path d="M45.2 248.1 L60.8 256.0" stroke="#9c9c9c" stroke-width="0.5" fill="none"/>
<path d="M45.2 249.8 L60.8 258.1" stroke="#9c9c9c" stroke-width="0.5" fill="none"/>
<path d="M45.4 239.4 L60.6 245.3" stroke="#c4c4c4" stroke-width="0.7" fill="none"/>
<path d="M66.6 244.3C65.9 245.1 63.6 247.3 62.6 248.9C61.6 250.5 60.8 252.3 60.7 254.0C60.6 255.7 61.7 258.3 61.9 259.2 L65.0 260.6C64.8 260.1 64.2 259.0 63.9 257.6C63.6 256.2 63.0 254.2 63.3 252.5C63.6 250.8 64.4 249.1 65.5 247.5C66.6 245.9 69.2 243.8 70.0 243.0Z" fill="#d4d4d4" stroke="#555" stroke-width="0.4" />
<ellipse cx="71.1" cy="251.7" rx="6.1" ry="8.4" transform="rotate(14 71.1 251.7)" fill="#2f2f2f" stroke="#222" stroke-width="0.5"/>
<ellipse cx="71.5" cy="252" rx="5.2" ry="7" transform="rotate(14 71.5 252)" fill="#444" stroke="#262626" stroke-width="0.5"/>
<ellipse cx="71.5" cy="252.6" rx="3.1" ry="4.3" transform="rotate(14 71.5 252.6)" fill="#5e5e5e" stroke="none"/>
<path d="M45.6 231.2 L53.6 235.9 L53.6 238.9 L45.6 234.2Z" fill="#9a9a9a" stroke="#383838" stroke-width="0.5" />
<path d="M53.6 235.9 L61.9 231.9 L61.9 234.9 L53.6 238.9Z" fill="#777" stroke="#383838" stroke-width="0.5" />
<path d="M45.6 231.2 L52.5 227.7 L61.9 231.9 L53.6 235.9Z" fill="#e2e2e2" stroke="#383838" stroke-width="0.6" />
<path d="M47.3 231.2 L52.5 228.7 L60.0 231.9 L53.7 234.9Z" fill="none" stroke="#999" stroke-width="0.35" /></g></g>
<g id="R180"><path d="M461.5 208.0C459.9 209.2 455.6 212.2 452.0 215.0C448.4 217.8 443.7 221.7 440.0 225.0C436.3 228.3 432.8 231.7 430.0 235.0C427.2 238.3 424.8 242.0 423.0 245.0C421.2 248.0 420.5 250.7 419.5 253.0C418.5 255.3 417.4 256.8 417.0 259.0C416.6 261.2 416.7 263.5 417.0 266.0C417.3 268.5 418.1 271.8 419.0 274.0C419.9 276.2 421.9 278.2 422.5 279.0 L433.5 281 L450 275 L474 250 L476 239 L475 212 L461.5 208Z" fill="#fff" stroke="none" stroke-width="0.9" />
<path d="M461.5 208.0C459.9 209.2 455.6 212.2 452.0 215.0C448.4 217.8 443.7 221.7 440.0 225.0C436.3 228.3 432.8 231.7 430.0 235.0C427.2 238.3 424.8 242.0 423.0 245.0C421.2 248.0 420.5 250.7 419.5 253.0C418.5 255.3 417.4 256.8 417.0 259.0C416.6 261.2 416.7 263.5 417.0 266.0C417.3 268.5 418.1 271.8 419.0 274.0C419.9 276.2 421.9 278.2 422.5 279.0" fill="none" stroke="#4a4a4a" stroke-width="0.75" />
<path d="M475.0 212.0C473.5 213.2 469.5 216.3 466.0 219.0C462.5 221.7 457.7 225.0 454.0 228.0C450.3 231.0 446.3 235.0 444.0 237.0C441.7 239.0 441.5 238.5 440.0 240.0C438.5 241.5 436.4 243.8 435.0 246.0C433.6 248.2 432.5 250.8 431.5 253.0C430.5 255.2 429.5 256.8 429.0 259.0C428.5 261.2 428.3 263.5 428.5 266.0C428.7 268.5 429.2 271.5 430.0 274.0C430.8 276.5 432.9 279.8 433.5 281.0" fill="none" stroke="#222" stroke-width="1.15" />
<path d="M461.0 202.5 L478.0 211.0 L478.0 238.5 L476.0 239.3 L475.4 213.0 L461.5 206.0Z" fill="#fff" stroke="#383838" stroke-width="0.7" />
<path d="M461.0 202.5 L461.5 208.0" fill="none" stroke="#383838" stroke-width="0.7" />
<rect x="476" y="216.0" width="1.3" height="2" fill="#aaa"/>
<rect x="476" y="220.6" width="1.3" height="2" fill="#aaa"/>
<rect x="476" y="225.2" width="1.3" height="2" fill="#aaa"/>
<rect x="476" y="229.8" width="1.3" height="2" fill="#aaa"/>
<rect x="476" y="234.4" width="1.3" height="2" fill="#aaa"/>
<path d="M476 239.3 L472.3 237.8 C471 241 472.5 245 472.5 248 L473.5 252" fill="none" stroke="#383838" stroke-width="0.7" />
<path d="M430.0 235.0 L439.0 239.0 L431.0 251.5 L422.0 247.5Z" fill="#fff" stroke="#383838" stroke-width="0.4" />
<circle cx="430.0" cy="235.0" r="0.8" fill="#222"/>
<circle cx="433.0" cy="236.3" r="0.8" fill="#222"/>
<circle cx="435.9" cy="237.6" r="0.8" fill="#222"/>
<circle cx="439.0" cy="239.0" r="0.8" fill="#222"/>
<circle cx="436.4" cy="243.1" r="0.8" fill="#222"/>
<circle cx="433.7" cy="247.2" r="0.8" fill="#222"/>
<circle cx="431.0" cy="251.5" r="0.8" fill="#222"/>
<circle cx="428.0" cy="250.2" r="0.8" fill="#222"/>
<circle cx="425.1" cy="248.9" r="0.8" fill="#222"/>
<circle cx="422.0" cy="247.5" r="0.8" fill="#222"/>
<circle cx="424.6" cy="243.4" r="0.8" fill="#222"/>
<circle cx="427.3" cy="239.2" r="0.8" fill="#222"/>
<ellipse cx="454.5" cy="232.5" rx="1.9" ry="2.7" fill="#aaa" stroke="#333" stroke-width="0.6"/>
<path d="M462.0 246.0 L462.0 229.3 L465.5 227.5 L466.0 245.5" fill="none" stroke="#383838" stroke-width="0.7" /><path d="M463.6 246.0 L463.6 229.0" fill="none" stroke="#383838" stroke-width="0.5" />
<path d="M422.5 279.0 L422.5 285.5" fill="none" stroke="#383838" stroke-width="0.7" />
<path d="M433.5 281.0 L433.5 291.0" fill="none" stroke="#383838" stroke-width="0.7" />
<path d="M419.5 286.0 L422.8 285.0" fill="none" stroke="#383838" stroke-width="0.6" />
<path d="M419.5 286.0 L434.5 293.5 L434.5 295.0 L419.5 287.5Z" fill="#fff" stroke="#383838" stroke-width="0.6" />
<path d="M424.5 286.5 L431.0 283.5 L433.5 284.5" fill="none" stroke="#383838" stroke-width="0.5" /><g transform="translate(408.5 18.5)"><path d="M27.9 273.6 L48.4 285.0 L49.4 286.7 L86.2 266.8 L86.2 268.3 L49.4 288.2 L27.4 275.1Z" fill="#fff" stroke="#383838" stroke-width="0.6" />
<path d="M39.5 254.0 L58.0 263.5 L51.9 280.7 L32.5 273.3Z" fill="#fff" stroke="#383838" stroke-width="0.9" />
<path d="M58.0 263.5 L64.0 260.0 L76.0 256.3 L81.7 263.8 L84.2 264.8 L86.2 266.8 L49.4 286.7 L48.4 285.0 L51.9 280.7Z" fill="#fff" stroke="#383838" stroke-width="0.9" />
<path d="M58.0 263.5 L55.5 272.1 L51.9 280.7" fill="none" stroke="#222" stroke-width="1.2" />
<path d="M34.0 222.5 L34.4 221.1 L36.0 220.5 L38.2 221.1 L39.0 222.5 L39.5 254.0 L32.5 273.3 L27.9 273.6 L34.0 251.0Z" fill="#fff" stroke="#383838" stroke-width="0.9" />
<path d="M36.0 221.5 L36.4 252.0 L30.3 273.2" fill="none" stroke="#383838" stroke-width="0.6" />
<path d="M42.0 254.0 L45.0 252.5 L58.0 258.5 L55.0 260.5Z" fill="#e4e4e4" stroke="#383838" stroke-width="0.6" />
<path d="M42.0 254.0 L55.0 260.5 L55.0 262.0 L42.0 255.5Z" fill="#bbb" stroke="#383838" stroke-width="0.5" />
<path d="M66.2 262.2 C69.5 260.8 71.6 263.5 70.6 266.3 C69.6 269.2 65.6 269.8 64.2 267.2 C63.7 266.2 64 265.2 64.8 264.8" fill="none" stroke="#555" stroke-width="2.1" stroke-linecap="round"/>
<path d="M66.2 262.2 C69.5 260.8 71.6 263.5 70.6 266.3 C69.6 269.2 65.6 269.8 64.2 267.2 C63.7 266.2 64 265.2 64.8 264.8" fill="none" stroke="#fff" stroke-width="0.9" stroke-linecap="round"/>
<circle cx="82.9" cy="264.0" r="0.8" fill="#333"/>
<circle cx="52.1" cy="280.1" r="0.8" fill="#222"/>
<path d="M39.0 235.8 L43.5 233.3 L45.0 234.0 L45.0 251.6 L39.0 250.2Z" fill="#111" stroke="#111" stroke-width="0.5" />
<path d="M44.2 237.3 C44.8 235.8 46 235 48 235 L59.7 235.6 C63 236 68 238.5 72.5 242.5 L66 261 L61.9 259.2 L43.8 250.6 C43.2 247 43.4 241 44.2 237.3Z" fill="#343434" stroke="#222" stroke-width="0.6" />
<path d="M44.4 239.2 L61 245.6 C60.2 250 60.4 255 61.9 259.2 L43.8 250.6 C43.4 247 43.6 242 44.4 239.2Z" fill="#585858" stroke="none" stroke-width="0.9" />
<path d="M45.2 241.2 L60.8 247.5" stroke="#9c9c9c" stroke-width="0.5" fill="none"/>
<path d="M45.2 242.9 L60.8 249.6" stroke="#9c9c9c" stroke-width="0.5" fill="none"/>
<path d="M45.2 244.6 L60.8 251.7" stroke="#9c9c9c" stroke-width="0.5" fill="none"/>
<path d="M45.2 246.4 L60.8 253.9" stroke="#9c9c9c" stroke-width="0.5" fill="none"/>
<path d="M45.2 248.1 L60.8 256.0" stroke="#9c9c9c" stroke-width="0.5" fill="none"/>
<path d="M45.2 249.8 L60.8 258.1" stroke="#9c9c9c" stroke-width="0.5" fill="none"/>
<path d="M45.4 239.4 L60.6 245.3" stroke="#c4c4c4" stroke-width="0.7" fill="none"/>
<path d="M66.6 244.3C65.9 245.1 63.6 247.3 62.6 248.9C61.6 250.5 60.8 252.3 60.7 254.0C60.6 255.7 61.7 258.3 61.9 259.2 L65.0 260.6C64.8 260.1 64.2 259.0 63.9 257.6C63.6 256.2 63.0 254.2 63.3 252.5C63.6 250.8 64.4 249.1 65.5 247.5C66.6 245.9 69.2 243.8 70.0 243.0Z" fill="#d4d4d4" stroke="#555" stroke-width="0.4" />
<ellipse cx="71.1" cy="251.7" rx="6.1" ry="8.4" transform="rotate(14 71.1 251.7)" fill="#2f2f2f" stroke="#222" stroke-width="0.5"/>
<ellipse cx="71.5" cy="252" rx="5.2" ry="7" transform="rotate(14 71.5 252)" fill="#444" stroke="#262626" stroke-width="0.5"/>
<ellipse cx="71.5" cy="252.6" rx="3.1" ry="4.3" transform="rotate(14 71.5 252.6)" fill="#5e5e5e" stroke="none"/>
<path d="M45.6 231.2 L53.6 235.9 L53.6 238.9 L45.6 234.2Z" fill="#9a9a9a" stroke="#383838" stroke-width="0.5" />
<path d="M53.6 235.9 L61.9 231.9 L61.9 234.9 L53.6 238.9Z" fill="#777" stroke="#383838" stroke-width="0.5" />
<path d="M45.6 231.2 L52.5 227.7 L61.9 231.9 L53.6 235.9Z" fill="#e2e2e2" stroke="#383838" stroke-width="0.6" />
<path d="M47.3 231.2 L52.5 228.7 L60.0 231.9 L53.7 234.9Z" fill="none" stroke="#999" stroke-width="0.35" /></g></g>
<g id="R225"><path d="M516.0 281.0C515.5 279.8 513.7 276.7 513.0 274.0C512.3 271.3 511.8 267.8 511.7 265.0C511.6 262.2 511.8 259.7 512.5 257.0C513.2 254.3 514.1 252.2 516.0 249.0C517.9 245.8 521.2 241.2 524.0 238.0C526.8 234.8 529.8 232.1 533.0 230.0C536.2 227.9 539.7 226.4 543.0 225.5C546.3 224.6 549.7 224.5 553.0 224.5C556.3 224.5 559.8 225.2 563.0 225.5C566.2 225.8 570.5 226.3 572.0 226.5 L589.5 232.5 L571 260 L540 285 L528.5 286Z" fill="#fff" stroke="none" stroke-width="0.9" />
<path d="M516.0 281.0C515.5 279.8 513.7 276.7 513.0 274.0C512.3 271.3 511.8 267.8 511.7 265.0C511.6 262.2 511.8 259.7 512.5 257.0C513.2 254.3 514.1 252.2 516.0 249.0C517.9 245.8 521.2 241.2 524.0 238.0C526.8 234.8 529.8 232.1 533.0 230.0C536.2 227.9 539.7 226.4 543.0 225.5C546.3 224.6 549.7 224.5 553.0 224.5C556.3 224.5 559.8 225.2 563.0 225.5C566.2 225.8 570.5 226.3 572.0 226.5" fill="none" stroke="#4a4a4a" stroke-width="0.75" />
<path d="M528.5 286.0C528.2 285.3 527.2 284.0 526.5 282.0C525.8 280.0 524.5 276.8 524.0 274.0C523.5 271.2 523.3 267.7 523.5 265.0C523.7 262.3 524.1 260.2 525.0 258.0C525.9 255.8 527.2 254.7 529.0 252.0C530.8 249.3 533.3 244.9 536.0 242.0C538.7 239.1 541.8 236.3 545.0 234.5C548.2 232.7 551.7 231.7 555.0 231.0C558.3 230.3 561.7 230.3 565.0 230.5C568.3 230.7 571.7 231.5 575.0 232.0C578.3 232.5 583.3 233.4 585.0 233.7" fill="none" stroke="#222" stroke-width="1.15" />
<path d="M572.0 226.5 L573.0 223.5 L589.5 232.5 L571.0 260.0 L566.5 257.3" fill="none" stroke="#383838" stroke-width="0.7" />
<path d="M572.0 226.5 L585.5 234.0 L568.0 258.2" fill="none" stroke="#383838" stroke-width="0.7" />
<rect x="584.5" y="235.4" width="1.5" height="2" fill="#aaa"/>
<rect x="581.3" y="240.0" width="1.5" height="2" fill="#aaa"/>
<rect x="577.7" y="245.2" width="1.5" height="2" fill="#aaa"/>
<rect x="574.1" y="250.3" width="1.5" height="2" fill="#aaa"/>
<rect x="570.9" y="254.9" width="1.5" height="2" fill="#aaa"/>
<rect x="576.0" y="226.6" width="1.6" height="1.3" fill="#bbb"/>
<rect x="581.2" y="229.3" width="1.6" height="1.3" fill="#bbb"/>
<rect x="585.7" y="231.6" width="1.6" height="1.3" fill="#bbb"/>
<ellipse cx="548.5" cy="240" rx="1.9" ry="2.7" fill="#aaa" stroke="#333" stroke-width="0.6"/>
<path d="M555.5 252.5 L555.5 240.0 L559.0 238.0 L559.5 252.0" fill="none" stroke="#383838" stroke-width="0.7" /><path d="M557.1 252.5 L557.1 239.5" fill="none" stroke="#383838" stroke-width="0.5" />
<path d="M516.0 281.0 L516.0 290.0" fill="none" stroke="#383838" stroke-width="0.7" />
<path d="M528.5 286.0 L528.5 296.0" fill="none" stroke="#383838" stroke-width="0.7" />
<path d="M513.5 290.0 L516.3 289.0" fill="none" stroke="#383838" stroke-width="0.6" />
<path d="M513.5 290.0 L529.0 298.0 L529.0 299.5 L513.5 291.5Z" fill="#fff" stroke="#383838" stroke-width="0.6" />
<path d="M518.0 290.5 L526.0 287.0 L528.5 288.0" fill="none" stroke="#383838" stroke-width="0.5" /><g transform="translate(502 22.5)"><path d="M27.9 273.6 L48.4 285.0 L49.4 286.7 L86.2 266.8 L86.2 268.3 L49.4 288.2 L27.4 275.1Z" fill="#fff" stroke="#383838" stroke-width="0.6" />
<path d="M39.5 254.0 L58.0 263.5 L51.9 280.7 L32.5 273.3Z" fill="#fff" stroke="#383838" stroke-width="0.9" />
<path d="M58.0 263.5 L64.0 260.0 L76.0 256.3 L81.7 263.8 L84.2 264.8 L86.2 266.8 L49.4 286.7 L48.4 285.0 L51.9 280.7Z" fill="#fff" stroke="#383838" stroke-width="0.9" />
<path d="M58.0 263.5 L55.5 272.1 L51.9 280.7" fill="none" stroke="#222" stroke-width="1.2" />
<path d="M34.0 229.0 L34.4 227.6 L36.0 227.0 L38.2 227.6 L39.0 229.0 L39.5 254.0 L32.5 273.3 L27.9 273.6 L34.0 251.0Z" fill="#fff" stroke="#383838" stroke-width="0.9" />
<path d="M36.0 228.0 L36.4 252.0 L30.3 273.2" fill="none" stroke="#383838" stroke-width="0.6" />
<path d="M42.0 254.0 L45.0 252.5 L58.0 258.5 L55.0 260.5Z" fill="#e4e4e4" stroke="#383838" stroke-width="0.6" />
<path d="M42.0 254.0 L55.0 260.5 L55.0 262.0 L42.0 255.5Z" fill="#bbb" stroke="#383838" stroke-width="0.5" />
<path d="M66.2 262.2 C69.5 260.8 71.6 263.5 70.6 266.3 C69.6 269.2 65.6 269.8 64.2 267.2 C63.7 266.2 64 265.2 64.8 264.8" fill="none" stroke="#555" stroke-width="2.1" stroke-linecap="round"/>
<path d="M66.2 262.2 C69.5 260.8 71.6 263.5 70.6 266.3 C69.6 269.2 65.6 269.8 64.2 267.2 C63.7 266.2 64 265.2 64.8 264.8" fill="none" stroke="#fff" stroke-width="0.9" stroke-linecap="round"/>
<circle cx="82.9" cy="264.0" r="0.8" fill="#333"/>
<circle cx="52.1" cy="280.1" r="0.8" fill="#222"/>
<path d="M39.0 235.8 L43.5 233.3 L45.0 234.0 L45.0 251.6 L39.0 250.2Z" fill="#111" stroke="#111" stroke-width="0.5" />
<path d="M44.2 237.3 C44.8 235.8 46 235 48 235 L59.7 235.6 C63 236 68 238.5 72.5 242.5 L66 261 L61.9 259.2 L43.8 250.6 C43.2 247 43.4 241 44.2 237.3Z" fill="#343434" stroke="#222" stroke-width="0.6" />
<path d="M44.4 239.2 L61 245.6 C60.2 250 60.4 255 61.9 259.2 L43.8 250.6 C43.4 247 43.6 242 44.4 239.2Z" fill="#585858" stroke="none" stroke-width="0.9" />
<path d="M45.2 241.2 L60.8 247.5" stroke="#9c9c9c" stroke-width="0.5" fill="none"/>
<path d="M45.2 242.9 L60.8 249.6" stroke="#9c9c9c" stroke-width="0.5" fill="none"/>
<path d="M45.2 244.6 L60.8 251.7" stroke="#9c9c9c" stroke-width="0.5" fill="none"/>
<path d="M45.2 246.4 L60.8 253.9" stroke="#9c9c9c" stroke-width="0.5" fill="none"/>
<path d="M45.2 248.1 L60.8 256.0" stroke="#9c9c9c" stroke-width="0.5" fill="none"/>
<path d="M45.2 249.8 L60.8 258.1" stroke="#9c9c9c" stroke-width="0.5" fill="none"/>
<path d="M45.4 239.4 L60.6 245.3" stroke="#c4c4c4" stroke-width="0.7" fill="none"/>
<path d="M66.6 244.3C65.9 245.1 63.6 247.3 62.6 248.9C61.6 250.5 60.8 252.3 60.7 254.0C60.6 255.7 61.7 258.3 61.9 259.2 L65.0 260.6C64.8 260.1 64.2 259.0 63.9 257.6C63.6 256.2 63.0 254.2 63.3 252.5C63.6 250.8 64.4 249.1 65.5 247.5C66.6 245.9 69.2 243.8 70.0 243.0Z" fill="#d4d4d4" stroke="#555" stroke-width="0.4" />
<ellipse cx="71.1" cy="251.7" rx="6.1" ry="8.4" transform="rotate(14 71.1 251.7)" fill="#2f2f2f" stroke="#222" stroke-width="0.5"/>
<ellipse cx="71.5" cy="252" rx="5.2" ry="7" transform="rotate(14 71.5 252)" fill="#444" stroke="#262626" stroke-width="0.5"/>
<ellipse cx="71.5" cy="252.6" rx="3.1" ry="4.3" transform="rotate(14 71.5 252.6)" fill="#5e5e5e" stroke="none"/>
<path d="M45.6 231.2 L53.6 235.9 L53.6 238.9 L45.6 234.2Z" fill="#9a9a9a" stroke="#383838" stroke-width="0.5" />
<path d="M53.6 235.9 L61.9 231.9 L61.9 234.9 L53.6 238.9Z" fill="#777" stroke="#383838" stroke-width="0.5" />
<path d="M45.6 231.2 L52.5 227.7 L61.9 231.9 L53.6 235.9Z" fill="#e2e2e2" stroke="#383838" stroke-width="0.6" />
<path d="M47.3 231.2 L52.5 228.7 L60.0 231.9 L53.7 234.9Z" fill="none" stroke="#999" stroke-width="0.35" /></g></g>
<g id="R270"><path d="M627.0 259.0C626.9 257.5 626.2 252.8 626.5 250.0C626.8 247.2 627.4 244.2 628.5 242.0C629.6 239.8 631.2 237.8 633.0 236.5C634.8 235.2 636.8 234.8 639.0 234.5C641.2 234.2 643.7 234.3 646.0 235.0C648.3 235.7 650.7 236.8 653.0 238.5C655.3 240.2 657.8 242.6 660.0 245.0C662.2 247.4 664.0 249.8 666.0 253.0C668.0 256.2 670.2 260.3 672.0 264.0C673.8 267.7 675.2 271.0 676.5 275.0C677.8 279.0 678.7 284.2 679.5 288.0C680.3 291.8 681.0 295.4 681.5 298.0C682.0 300.6 682.3 302.6 682.5 303.5 L695 296.5 L695 296.5 L694 291 L692 282 L689.5 270 L686 261 L682 253 L676 244 L669 236 L661 231 L653 228.5 L645 229.5 L639 232.5 L633 236.5 Z" fill="#fff" stroke="none" stroke-width="0.9" />
<path d="M639.0 232.5C640.0 232.0 642.7 230.2 645.0 229.5C647.3 228.8 650.3 228.2 653.0 228.5C655.7 228.8 658.3 229.8 661.0 231.0C663.7 232.2 666.5 233.8 669.0 236.0C671.5 238.2 673.8 241.2 676.0 244.0C678.2 246.8 680.3 250.2 682.0 253.0C683.7 255.8 684.8 258.2 686.0 261.0C687.2 263.8 688.5 266.5 689.5 270.0C690.5 273.5 691.2 278.5 692.0 282.0C692.8 285.5 693.5 288.6 694.0 291.0C694.5 293.4 694.8 295.6 695.0 296.5" fill="none" stroke="#4a4a4a" stroke-width="0.75" />
<path d="M627.0 259.0C626.9 257.5 626.2 252.8 626.5 250.0C626.8 247.2 627.4 244.2 628.5 242.0C629.6 239.8 631.2 237.8 633.0 236.5C634.8 235.2 636.8 234.8 639.0 234.5C641.2 234.2 643.7 234.3 646.0 235.0C648.3 235.7 650.7 236.8 653.0 238.5C655.3 240.2 657.8 242.6 660.0 245.0C662.2 247.4 664.0 249.8 666.0 253.0C668.0 256.2 670.2 260.3 672.0 264.0C673.8 267.7 675.2 271.0 676.5 275.0C677.8 279.0 678.7 284.2 679.5 288.0C680.3 291.8 681.0 295.4 681.5 298.0C682.0 300.6 682.3 302.6 682.5 303.5" fill="none" stroke="#222" stroke-width="1.15" />
<path d="M639 234.5 L639 232.5" fill="none" stroke="#383838" stroke-width="0.5" />
<path d="M667.0 296.5 L682.5 304.0 L698.0 297.0 L698.0 298.5 L682.5 305.6 L667.0 298.0Z" fill="#fff" stroke="#383838" stroke-width="0.7" />
<path d="M695.0 296.5 L698.0 297.0" fill="none" stroke="#383838" stroke-width="0.6" />
<path d="M684.5 301.8 L694.8 297.3" fill="none" stroke="#383838" stroke-width="0.5" />
<ellipse cx="647.5" cy="241.5" rx="1.9" ry="2.7" fill="#aaa" stroke="#333" stroke-width="0.6"/>
<path d="M640.3 252.0 L640.3 239.5 L637.0 237.5 L636.6 251.5" fill="none" stroke="#383838" stroke-width="0.7" /><path d="M638.7 252.0 L638.7 239.0" fill="none" stroke="#383838" stroke-width="0.5" /><g transform="translate(694 24) scale(-1 1)"><path d="M28.0 273.0 L48.5 284.6 L49.5 286.3 L86.1 266.7 L86.1 268.2 L49.5 287.8 L27.5 274.5Z" fill="#fff" stroke="#383838" stroke-width="0.6" />
<path d="M39.5 254.0 L58.0 263.5 L52.0 280.3 L32.7 272.8Z" fill="#fff" stroke="#383838" stroke-width="0.9" />
<path d="M58.0 263.5 L64.0 260.0 L76.0 256.3 L81.6 263.7 L84.1 264.7 L86.1 266.7 L49.5 286.3 L48.5 284.6 L52.0 280.3Z" fill="#fff" stroke="#383838" stroke-width="0.9" />
<path d="M58.0 263.5 L55.6 271.9 L52.0 280.3" fill="none" stroke="#222" stroke-width="1.2" />
<path d="M34.0 227.0 L34.4 225.6 L36.0 225.0 L38.2 225.6 L39.0 227.0 L39.5 254.0 L32.7 272.8 L28.0 273.0 L34.0 251.0Z" fill="#fff" stroke="#383838" stroke-width="0.9" />
<path d="M36.0 226.0 L36.4 252.0 L30.5 272.6" fill="none" stroke="#383838" stroke-width="0.6" />
<path d="M42.0 254.0 L45.0 252.5 L58.0 258.5 L55.0 260.5Z" fill="#e4e4e4" stroke="#383838" stroke-width="0.6" />
<path d="M42.0 254.0 L55.0 260.5 L55.0 262.0 L42.0 255.5Z" fill="#bbb" stroke="#383838" stroke-width="0.5" />
<path d="M66.2 262.2 C69.5 260.8 71.6 263.5 70.6 266.3 C69.6 269.2 65.6 269.8 64.2 267.2 C63.7 266.2 64 265.2 64.8 264.8" fill="none" stroke="#555" stroke-width="2.1" stroke-linecap="round"/>
<path d="M66.2 262.2 C69.5 260.8 71.6 263.5 70.6 266.3 C69.6 269.2 65.6 269.8 64.2 267.2 C63.7 266.2 64 265.2 64.8 264.8" fill="none" stroke="#fff" stroke-width="0.9" stroke-linecap="round"/>
<circle cx="82.8" cy="263.9" r="0.8" fill="#333"/>
<circle cx="52.2" cy="279.7" r="0.8" fill="#222"/>
<path d="M39.0 235.8 L43.5 233.3 L45.0 234.0 L45.0 251.6 L39.0 250.2Z" fill="#111" stroke="#111" stroke-width="0.5" />
<path d="M44.2 237.3 C44.8 235.8 46 235 48 235 L59.7 235.6 C63 236 68 238.5 72.5 242.5 L66 261 L61.9 259.2 L43.8 250.6 C43.2 247 43.4 241 44.2 237.3Z" fill="#343434" stroke="#222" stroke-width="0.6" />
<path d="M44.4 239.2 L61 245.6 C60.2 250 60.4 255 61.9 259.2 L43.8 250.6 C43.4 247 43.6 242 44.4 239.2Z" fill="#585858" stroke="none" stroke-width="0.9" />
<path d="M45.2 241.2 L60.8 247.5" stroke="#9c9c9c" stroke-width="0.5" fill="none"/>
<path d="M45.2 242.9 L60.8 249.6" stroke="#9c9c9c" stroke-width="0.5" fill="none"/>
<path d="M45.2 244.6 L60.8 251.7" stroke="#9c9c9c" stroke-width="0.5" fill="none"/>
<path d="M45.2 246.4 L60.8 253.9" stroke="#9c9c9c" stroke-width="0.5" fill="none"/>
<path d="M45.2 248.1 L60.8 256.0" stroke="#9c9c9c" stroke-width="0.5" fill="none"/>
<path d="M45.2 249.8 L60.8 258.1" stroke="#9c9c9c" stroke-width="0.5" fill="none"/>
<path d="M45.4 239.4 L60.6 245.3" stroke="#c4c4c4" stroke-width="0.7" fill="none"/>
<path d="M66.6 244.3C65.9 245.1 63.6 247.3 62.6 248.9C61.6 250.5 60.8 252.3 60.7 254.0C60.6 255.7 61.7 258.3 61.9 259.2 L65.0 260.6C64.8 260.1 64.2 259.0 63.9 257.6C63.6 256.2 63.0 254.2 63.3 252.5C63.6 250.8 64.4 249.1 65.5 247.5C66.6 245.9 69.2 243.8 70.0 243.0Z" fill="#d4d4d4" stroke="#555" stroke-width="0.4" />
<ellipse cx="71.1" cy="251.7" rx="6.1" ry="8.4" transform="rotate(14 71.1 251.7)" fill="#2f2f2f" stroke="#222" stroke-width="0.5"/>
<ellipse cx="71.5" cy="252" rx="5.2" ry="7" transform="rotate(14 71.5 252)" fill="#444" stroke="#262626" stroke-width="0.5"/>
<ellipse cx="71.5" cy="252.6" rx="3.1" ry="4.3" transform="rotate(14 71.5 252.6)" fill="#5e5e5e" stroke="none"/>
<path d="M45.6 231.2 L53.6 235.9 L53.6 238.9 L45.6 234.2Z" fill="#9a9a9a" stroke="#383838" stroke-width="0.5" />
<path d="M53.6 235.9 L61.9 231.9 L61.9 234.9 L53.6 238.9Z" fill="#777" stroke="#383838" stroke-width="0.5" />
<path d="M45.6 231.2 L52.5 227.7 L61.9 231.9 L53.6 235.9Z" fill="#e2e2e2" stroke="#383838" stroke-width="0.6" />
<path d="M47.3 231.2 L52.5 228.7 L60.0 231.9 L53.7 234.9Z" fill="none" stroke="#999" stroke-width="0.35" /></g></g>
<g id="L135"><path d="M329.0 380.0C327.7 381.2 323.2 384.5 321.0 387.0C318.8 389.5 317.3 392.5 316.0 395.0C314.7 397.5 313.6 399.8 313.0 402.0C312.4 404.2 312.3 406.0 312.5 408.0C312.7 410.0 313.1 412.0 314.0 414.0C314.9 416.0 316.3 418.3 318.0 420.0C319.7 421.7 322.7 423.0 324.0 424.0C325.3 425.0 325.7 425.7 326.0 426.0 L330 430 L345 425 L374.5 404 L374.5 404 L375 398 L375.5 390 L375 383 L372 375 L366 367 L359 359 L341 384 Z" fill="#fff" stroke="none" stroke-width="0.9" />
<path d="M359.0 359.0C360.2 360.3 363.8 364.3 366.0 367.0C368.2 369.7 370.5 372.3 372.0 375.0C373.5 377.7 374.4 380.5 375.0 383.0C375.6 385.5 375.5 387.5 375.5 390.0C375.5 392.5 375.2 395.7 375.0 398.0C374.8 400.3 374.6 403.0 374.5 404.0" fill="none" stroke="#383838" stroke-width="0.9" />
<path d="M329.0 380.0C327.7 381.2 323.2 384.5 321.0 387.0C318.8 389.5 317.3 392.5 316.0 395.0C314.7 397.5 313.6 399.8 313.0 402.0C312.4 404.2 312.3 406.0 312.5 408.0C312.7 410.0 313.1 412.0 314.0 414.0C314.9 416.0 316.3 418.3 318.0 420.0C319.7 421.7 322.7 423.0 324.0 424.0C325.3 425.0 325.7 425.7 326.0 426.0" fill="none" stroke="#383838" stroke-width="0.9" />
<path d="M341.0 384.0C340.2 385.0 337.3 388.2 336.0 390.0C334.7 391.8 334.3 393.0 333.0 395.0C331.7 397.0 329.1 399.5 328.0 402.0C326.9 404.5 326.6 407.3 326.5 410.0C326.4 412.7 327.0 415.8 327.5 418.0C328.0 420.2 329.1 421.0 329.5 423.0C329.9 425.0 329.9 428.8 330.0 430.0" fill="none" stroke="#383838" stroke-width="0.9" />
<path d="M323.5 405.0C323.1 406.2 321.2 409.7 321.0 412.0C320.8 414.3 322.2 417.8 322.5 419.0" fill="none" stroke="#383838" stroke-width="0.6" />
<path d="M344.0 347.0 L360.5 355.5 L341.0 384.0 L325.0 377.5Z" fill="#fff" stroke="#383838" stroke-width="0.9" />
<path d="M345.0 351.0 L356.0 357.5 L340.0 381.0 L329.5 376.0Z" fill="#fff" stroke="#383838" stroke-width="0.9" />
<path d="M344.0 347.0 L345.2 346.4 L361.7 355.0 L360.5 355.5" fill="none" stroke="#383838" stroke-width="0.5" />
<path d="M345.0 351.0 L354.3 359.8" fill="none" stroke="#383838" stroke-width="0.6" />
<path d="M333.5 377.8 C336 375 339.5 373.6 343.2 373.3" fill="none" stroke="#383838" stroke-width="0.6" />
<path d="M337 379.5 L343.2 373.3" fill="none" stroke="#383838" stroke-width="0.5" />
<rect x="341.5" y="351.5" width="1.4" height="2" fill="#aaa"/>
<rect x="355.7" y="359.1" width="1.4" height="2" fill="#aaa"/>
<rect x="338.1" y="357.1" width="1.4" height="2" fill="#aaa"/>
<rect x="352.2" y="364.2" width="1.4" height="2" fill="#aaa"/>
<rect x="334.6" y="362.7" width="1.4" height="2" fill="#aaa"/>
<rect x="348.7" y="369.3" width="1.4" height="2" fill="#aaa"/>
<rect x="331.1" y="368.2" width="1.4" height="2" fill="#aaa"/>
<rect x="345.2" y="374.4" width="1.4" height="2" fill="#aaa"/>
<rect x="328.0" y="373.2" width="1.4" height="2" fill="#aaa"/>
<rect x="342.1" y="378.9" width="1.4" height="2" fill="#aaa"/>
<path d="M348.4 380.4 L351.5 381.4 C354.4 382.5 354.4 386 351.8 386.6 L348.4 387.8Z" fill="#fff" stroke="#383838" stroke-width="0.7" /><ellipse cx="351.6" cy="384" rx="1.4" ry="1.9" fill="#999" stroke="#444" stroke-width="0.4"/>
<path d="M357.8 393.0 L357.8 380.5 L361.3 378.5 L361.8 392.5" fill="none" stroke="#383838" stroke-width="0.7" /><path d="M359.4 393.0 L359.4 380.0" fill="none" stroke="#383838" stroke-width="0.5" />
<path d="M320.0 430.0 L326.5 427.5" fill="none" stroke="#383838" stroke-width="0.6" />
<path d="M320.0 430.0 L331.0 436.0 L331.0 439.0 L320.0 433.5Z" fill="#fff" stroke="#383838" stroke-width="0.6" /><g transform="translate(304 162.5)"><path d="M27.9 273.6 L48.4 285.0 L49.4 286.7 L86.2 266.8 L86.2 268.3 L49.4 288.2 L27.4 275.1Z" fill="#fff" stroke="#383838" stroke-width="0.6" />
<path d="M39.5 254.0 L58.0 263.5 L51.9 280.7 L32.5 273.3Z" fill="#fff" stroke="#383838" stroke-width="0.9" />
<path d="M58.0 263.5 L64.0 260.0 L76.0 256.3 L81.7 263.8 L84.2 264.8 L86.2 266.8 L49.4 286.7 L48.4 285.0 L51.9 280.7Z" fill="#fff" stroke="#383838" stroke-width="0.9" />
<path d="M58.0 263.5 L55.5 272.1 L51.9 280.7" fill="none" stroke="#222" stroke-width="1.2" />
<path d="M34.0 230.5 L34.4 229.1 L36.0 228.5 L38.2 229.1 L39.0 230.5 L39.5 254.0 L32.5 273.3 L27.9 273.6 L34.0 251.0Z" fill="#fff" stroke="#383838" stroke-width="0.9" />
<path d="M36.0 229.5 L36.4 252.0 L30.3 273.2" fill="none" stroke="#383838" stroke-width="0.6" />
<path d="M42.0 254.0 L45.0 252.5 L58.0 258.5 L55.0 260.5Z" fill="#e4e4e4" stroke="#383838" stroke-width="0.6" />
<path d="M42.0 254.0 L55.0 260.5 L55.0 262.0 L42.0 255.5Z" fill="#bbb" stroke="#383838" stroke-width="0.5" />
<path d="M66.2 262.2 C69.5 260.8 71.6 263.5 70.6 266.3 C69.6 269.2 65.6 269.8 64.2 267.2 C63.7 266.2 64 265.2 64.8 264.8" fill="none" stroke="#555" stroke-width="2.1" stroke-linecap="round"/>
<path d="M66.2 262.2 C69.5 260.8 71.6 263.5 70.6 266.3 C69.6 269.2 65.6 269.8 64.2 267.2 C63.7 266.2 64 265.2 64.8 264.8" fill="none" stroke="#fff" stroke-width="0.9" stroke-linecap="round"/>
<circle cx="82.9" cy="264.0" r="0.8" fill="#333"/>
<circle cx="52.1" cy="280.1" r="0.8" fill="#222"/>
<path d="M39.0 235.8 L43.5 233.3 L45.0 234.0 L45.0 251.6 L39.0 250.2Z" fill="#111" stroke="#111" stroke-width="0.5" />
<path d="M44.2 237.3 C44.8 235.8 46 235 48 235 L59.7 235.6 C63 236 68 238.5 72.5 242.5 L66 261 L61.9 259.2 L43.8 250.6 C43.2 247 43.4 241 44.2 237.3Z" fill="#343434" stroke="#222" stroke-width="0.6" />
<path d="M44.4 239.2 L61 245.6 C60.2 250 60.4 255 61.9 259.2 L43.8 250.6 C43.4 247 43.6 242 44.4 239.2Z" fill="#585858" stroke="none" stroke-width="0.9" />
<path d="M45.2 241.2 L60.8 247.5" stroke="#9c9c9c" stroke-width="0.5" fill="none"/>
<path d="M45.2 242.9 L60.8 249.6" stroke="#9c9c9c" stroke-width="0.5" fill="none"/>
<path d="M45.2 244.6 L60.8 251.7" stroke="#9c9c9c" stroke-width="0.5" fill="none"/>
<path d="M45.2 246.4 L60.8 253.9" stroke="#9c9c9c" stroke-width="0.5" fill="none"/>
<path d="M45.2 248.1 L60.8 256.0" stroke="#9c9c9c" stroke-width="0.5" fill="none"/>
<path d="M45.2 249.8 L60.8 258.1" stroke="#9c9c9c" stroke-width="0.5" fill="none"/>
<path d="M45.4 239.4 L60.6 245.3" stroke="#c4c4c4" stroke-width="0.7" fill="none"/>
<path d="M66.6 244.3C65.9 245.1 63.6 247.3 62.6 248.9C61.6 250.5 60.8 252.3 60.7 254.0C60.6 255.7 61.7 258.3 61.9 259.2 L65.0 260.6C64.8 260.1 64.2 259.0 63.9 257.6C63.6 256.2 63.0 254.2 63.3 252.5C63.6 250.8 64.4 249.1 65.5 247.5C66.6 245.9 69.2 243.8 70.0 243.0Z" fill="#d4d4d4" stroke="#555" stroke-width="0.4" />
<ellipse cx="71.1" cy="251.7" rx="6.1" ry="8.4" transform="rotate(14 71.1 251.7)" fill="#2f2f2f" stroke="#222" stroke-width="0.5"/>
<ellipse cx="71.5" cy="252" rx="5.2" ry="7" transform="rotate(14 71.5 252)" fill="#444" stroke="#262626" stroke-width="0.5"/>
<ellipse cx="71.5" cy="252.6" rx="3.1" ry="4.3" transform="rotate(14 71.5 252.6)" fill="#5e5e5e" stroke="none"/>
<path d="M45.6 231.2 L53.6 235.9 L53.6 238.9 L45.6 234.2Z" fill="#9a9a9a" stroke="#383838" stroke-width="0.5" />
<path d="M53.6 235.9 L61.9 231.9 L61.9 234.9 L53.6 238.9Z" fill="#777" stroke="#383838" stroke-width="0.5" />
<path d="M45.6 231.2 L52.5 227.7 L61.9 231.9 L53.6 235.9Z" fill="#e2e2e2" stroke="#383838" stroke-width="0.6" />
<path d="M47.3 231.2 L52.5 228.7 L60.0 231.9 L53.7 234.9Z" fill="none" stroke="#999" stroke-width="0.35" /></g></g>
<g id="L180"><path d="M427 364 L452 357.5 L458 357.5 458 357.5 L466 361 L473 366 L478 374 L480 383 L480 392 L479 400 L470 410 L437 430 L425 422 L425 393 Z" fill="#fff" stroke="none" stroke-width="0.9" />
<path d="M427.0 364.0 L452.0 357.5 L458.0 357.5" fill="none" stroke="#383838" stroke-width="0.9" />
<path d="M458.0 357.5C459.3 358.1 463.5 359.6 466.0 361.0C468.5 362.4 471.0 363.8 473.0 366.0C475.0 368.2 476.8 371.2 478.0 374.0C479.2 376.8 479.7 380.0 480.0 383.0C480.3 386.0 480.2 389.2 480.0 392.0C479.8 394.8 479.2 398.7 479.0 400.0" fill="none" stroke="#383838" stroke-width="0.9" />
<path d="M437.0 370.3 L464.5 363.0" fill="none" stroke="#383838" stroke-width="1.0" />
<path d="M464.5 363 C470 363.5 476 368 479 375" fill="none" stroke="#383838" stroke-width="0.6" />
<path d="M458.0 357.5 L464.5 363.0" fill="none" stroke="#383838" stroke-width="0.6" />
<path d="M464.3 382.0 L464.3 364.5 L467.7 363.5 L468.0 381.5" fill="none" stroke="#383838" stroke-width="0.7" /><path d="M465.9 382.0 L465.9 364.5" fill="none" stroke="#383838" stroke-width="0.5" />
<path d="M454.9 368.9 L458.0 369.9 C460.9 371.0 460.9 374.5 458.3 375.1 L454.9 376.3Z" fill="#fff" stroke="#383838" stroke-width="0.7" /><ellipse cx="458.1" cy="372.5" rx="1.4" ry="1.9" fill="#999" stroke="#444" stroke-width="0.4"/>
<path d="M425.0 393.0 L425.0 422.0" fill="none" stroke="#383838" stroke-width="0.7" />
<path d="M426.3 393.5 L426.3 421.5" fill="none" stroke="#383838" stroke-width="0.4" />
<path d="M436.6 395.0 L436.3 429.5" fill="none" stroke="#383838" stroke-width="0.7" />
<path d="M425 405 C427 410 431 414 436 415.5" fill="none" stroke="#383838" stroke-width="0.6" />
<path d="M434.5 397 C435.5 402 435 407 433.5 410.5" fill="none" stroke="#383838" stroke-width="0.6" />
<path d="M422.0 422.5 L425.3 421.5" fill="none" stroke="#383838" stroke-width="0.6" />
<path d="M422.0 422.5 L437.0 430.0 L437.0 431.5 L422.0 424.0Z" fill="#fff" stroke="#383838" stroke-width="0.6" />
<path d="M427.0 423.0 L434.0 419.5 L436.4 420.5" fill="none" stroke="#383838" stroke-width="0.5" />
<path d="M420.0 361.5 L437.0 370.5 L436.5 395.0 L419.5 390.5Z" fill="#fff" stroke="#383838" stroke-width="0.9" />
<path d="M423.0 366.0 L434.0 371.5 L433.5 392.0 L423.0 388.0Z" fill="#fff" stroke="#383838" stroke-width="0.9" />
<path d="M420.0 361.5 L421.0 360.8 L438.0 369.8 L437.0 370.5" fill="none" stroke="#383838" stroke-width="0.5" />
<path d="M423.0 388.0 L426.5 386.3 L433.5 389.0" fill="none" stroke="#383838" stroke-width="0.6" />
<path d="M426.5 386.3 L432.8 376.5" fill="none" stroke="#383838" stroke-width="0.6" />
<path d="M428.5 387.0 L433.5 379.5" fill="none" stroke="#383838" stroke-width="0.5" />
<rect x="420.7" y="366.0" width="1.4" height="2.2" fill="#bbb"/>
<rect x="434.6" y="372.0" width="1.4" height="2.2" fill="#aaa"/>
<rect x="420.7" y="371.0" width="1.4" height="2.2" fill="#bbb"/>
<rect x="434.6" y="377.0" width="1.4" height="2.2" fill="#aaa"/>
<rect x="420.7" y="376.0" width="1.4" height="2.2" fill="#bbb"/>
<rect x="434.6" y="382.0" width="1.4" height="2.2" fill="#aaa"/>
<rect x="420.7" y="381.0" width="1.4" height="2.2" fill="#bbb"/>
<rect x="434.6" y="387.0" width="1.4" height="2.2" fill="#aaa"/>
<rect x="420.7" y="386.0" width="1.4" height="2.2" fill="#bbb"/>
<rect x="434.6" y="392.0" width="1.4" height="2.2" fill="#aaa"/><g transform="translate(410.5 156)"><path d="M28.1 272.4 L48.6 284.2 L49.6 285.9 L86.0 266.5 L86.0 268.0 L49.6 287.4 L27.6 273.9Z" fill="#fff" stroke="#383838" stroke-width="0.6" />
<path d="M39.5 254.0 L58.0 263.5 L52.1 279.9 L32.9 272.3Z" fill="#fff" stroke="#383838" stroke-width="0.9" />
<path d="M58.0 263.5 L64.0 260.0 L76.0 256.3 L81.5 263.5 L84.0 264.5 L86.0 266.5 L49.6 285.9 L48.6 284.2 L52.1 279.9Z" fill="#fff" stroke="#383838" stroke-width="0.9" />
<path d="M58.0 263.5 L55.7 271.7 L52.1 279.9" fill="none" stroke="#222" stroke-width="1.2" />
<path d="M34.0 221.5 L34.4 220.1 L36.0 219.5 L38.2 220.1 L39.0 221.5 L39.5 254.0 L32.9 272.3 L28.1 272.4 L34.0 251.0Z" fill="#fff" stroke="#383838" stroke-width="0.9" />
<path d="M36.0 220.5 L36.4 252.0 L30.6 272.1" fill="none" stroke="#383838" stroke-width="0.6" />
<path d="M42.0 254.0 L45.0 252.5 L58.0 258.5 L55.0 260.5Z" fill="#e4e4e4" stroke="#383838" stroke-width="0.6" />
<path d="M42.0 254.0 L55.0 260.5 L55.0 262.0 L42.0 255.5Z" fill="#bbb" stroke="#383838" stroke-width="0.5" />
<path d="M66.2 262.2 C69.5 260.8 71.6 263.5 70.6 266.3 C69.6 269.2 65.6 269.8 64.2 267.2 C63.7 266.2 64 265.2 64.8 264.8" fill="none" stroke="#555" stroke-width="2.1" stroke-linecap="round"/>
<path d="M66.2 262.2 C69.5 260.8 71.6 263.5 70.6 266.3 C69.6 269.2 65.6 269.8 64.2 267.2 C63.7 266.2 64 265.2 64.8 264.8" fill="none" stroke="#fff" stroke-width="0.9" stroke-linecap="round"/>
<circle cx="82.7" cy="263.7" r="0.8" fill="#333"/>
<circle cx="52.4" cy="279.3" r="0.8" fill="#222"/>
<path d="M39.0 235.8 L43.5 233.3 L45.0 234.0 L45.0 251.6 L39.0 250.2Z" fill="#111" stroke="#111" stroke-width="0.5" />
<path d="M44.2 237.3 C44.8 235.8 46 235 48 235 L59.7 235.6 C63 236 68 238.5 72.5 242.5 L66 261 L61.9 259.2 L43.8 250.6 C43.2 247 43.4 241 44.2 237.3Z" fill="#343434" stroke="#222" stroke-width="0.6" />
<path d="M44.4 239.2 L61 245.6 C60.2 250 60.4 255 61.9 259.2 L43.8 250.6 C43.4 247 43.6 242 44.4 239.2Z" fill="#585858" stroke="none" stroke-width="0.9" />
<path d="M45.2 241.2 L60.8 247.5" stroke="#9c9c9c" stroke-width="0.5" fill="none"/>
<path d="M45.2 242.9 L60.8 249.6" stroke="#9c9c9c" stroke-width="0.5" fill="none"/>
<path d="M45.2 244.6 L60.8 251.7" stroke="#9c9c9c" stroke-width="0.5" fill="none"/>
<path d="M45.2 246.4 L60.8 253.9" stroke="#9c9c9c" stroke-width="0.5" fill="none"/>
<path d="M45.2 248.1 L60.8 256.0" stroke="#9c9c9c" stroke-width="0.5" fill="none"/>
<path d="M45.2 249.8 L60.8 258.1" stroke="#9c9c9c" stroke-width="0.5" fill="none"/>
<path d="M45.4 239.4 L60.6 245.3" stroke="#c4c4c4" stroke-width="0.7" fill="none"/>
<path d="M66.6 244.3C65.9 245.1 63.6 247.3 62.6 248.9C61.6 250.5 60.8 252.3 60.7 254.0C60.6 255.7 61.7 258.3 61.9 259.2 L65.0 260.6C64.8 260.1 64.2 259.0 63.9 257.6C63.6 256.2 63.0 254.2 63.3 252.5C63.6 250.8 64.4 249.1 65.5 247.5C66.6 245.9 69.2 243.8 70.0 243.0Z" fill="#d4d4d4" stroke="#555" stroke-width="0.4" />
<ellipse cx="71.1" cy="251.7" rx="6.1" ry="8.4" transform="rotate(14 71.1 251.7)" fill="#2f2f2f" stroke="#222" stroke-width="0.5"/>
<ellipse cx="71.5" cy="252" rx="5.2" ry="7" transform="rotate(14 71.5 252)" fill="#444" stroke="#262626" stroke-width="0.5"/>
<ellipse cx="71.5" cy="252.6" rx="3.1" ry="4.3" transform="rotate(14 71.5 252.6)" fill="#5e5e5e" stroke="none"/>
<path d="M45.6 231.2 L53.6 235.9 L53.6 238.9 L45.6 234.2Z" fill="#9a9a9a" stroke="#383838" stroke-width="0.5" />
<path d="M53.6 235.9 L61.9 231.9 L61.9 234.9 L53.6 238.9Z" fill="#777" stroke="#383838" stroke-width="0.5" />
<path d="M45.6 231.2 L52.5 227.7 L61.9 231.9 L53.6 235.9Z" fill="#e2e2e2" stroke="#383838" stroke-width="0.6" />
<path d="M47.3 231.2 L52.5 228.7 L60.0 231.9 L53.7 234.9Z" fill="none" stroke="#999" stroke-width="0.35" /></g></g>
<g id="L225"><path d="M508.0 400.0C509.5 398.0 513.8 392.0 517.0 388.0C520.2 384.0 523.7 379.7 527.0 376.0C530.3 372.3 533.7 368.7 537.0 366.0C540.3 363.3 544.0 361.2 547.0 360.0C550.0 358.8 552.3 358.5 555.0 358.5C557.7 358.5 560.4 359.1 563.0 360.0C565.6 360.9 568.2 361.9 570.7 363.9C573.2 365.9 576.0 368.9 577.7 371.9C579.4 374.9 580.3 378.6 580.7 381.8C581.1 385.0 580.4 389.5 580.3 391.0 L570 405 L538 416 L505 399 Z" fill="#fff" stroke="none" stroke-width="0.9" />
<path d="M508.0 400.0C509.5 398.0 513.8 392.0 517.0 388.0C520.2 384.0 523.7 379.7 527.0 376.0C530.3 372.3 533.7 368.7 537.0 366.0C540.3 363.3 544.0 361.2 547.0 360.0C550.0 358.8 552.3 358.5 555.0 358.5C557.7 358.5 560.4 359.1 563.0 360.0C565.6 360.9 568.2 361.9 570.7 363.9C573.2 365.9 576.0 368.9 577.7 371.9C579.4 374.9 580.3 378.6 580.7 381.8C581.1 385.0 580.4 389.5 580.3 391.0" fill="none" stroke="#4a4a4a" stroke-width="0.75" />
<path d="M519.0 406.0C520.3 404.2 524.0 398.8 527.0 395.0C530.0 391.2 533.7 386.8 537.0 383.0C540.3 379.2 544.0 374.8 547.0 372.0C550.0 369.2 552.5 367.8 555.0 366.5C557.5 365.2 559.7 364.8 562.0 364.5C564.3 364.2 567.1 364.7 569.0 365.0C570.9 365.3 572.8 366.2 573.5 366.5" fill="none" stroke="#222" stroke-width="1.15" />
<path d="M505.0 399.0 L519.0 406.0 L538.0 416.0" fill="none" stroke="#383838" stroke-width="0.9" />
<path d="M556.9 369.9 L560.0 370.9 C562.9 372.0 562.9 375.5 560.3 376.1 L556.9 377.3Z" fill="#fff" stroke="#383838" stroke-width="0.7" /><ellipse cx="560.1" cy="373.5" rx="1.4" ry="1.9" fill="#999" stroke="#444" stroke-width="0.4"/>
<path d="M565.0 384.5 L565.0 372.0 L568.5 370.0 L569.0 384.0" fill="none" stroke="#383838" stroke-width="0.7" /><path d="M566.6 384.5 L566.6 371.5" fill="none" stroke="#383838" stroke-width="0.5" />
<path d="M526.5 410.0 L526.5 422.0" fill="none" stroke="#383838" stroke-width="0.7" />
<path d="M537.0 415.5 L537.3 428.5" fill="none" stroke="#383838" stroke-width="0.7" />
<path d="M536 412.3 L537.2 409.8 L538.3 412.8Z" fill="#222" stroke="#383838" stroke-width="0.4" />
<path d="M523.5 422.5 L526.7 421.5" fill="none" stroke="#383838" stroke-width="0.6" />
<path d="M523.5 422.5 L538.0 430.0 L538.0 431.5 L523.5 424.0Z" fill="#fff" stroke="#383838" stroke-width="0.6" />
<path d="M529.0 423.0 L536.5 419.3" fill="none" stroke="#383838" stroke-width="0.5" /><g transform="translate(512 156)"><path d="M28.1 272.4 L48.6 284.2 L49.6 285.9 L86.0 266.5 L86.0 268.0 L49.6 287.4 L27.6 273.9Z" fill="#fff" stroke="#383838" stroke-width="0.6" />
<path d="M39.5 254.0 L58.0 263.5 L52.1 279.9 L32.9 272.3Z" fill="#fff" stroke="#383838" stroke-width="0.9" />
<path d="M58.0 263.5 L64.0 260.0 L76.0 256.3 L81.5 263.5 L84.0 264.5 L86.0 266.5 L49.6 285.9 L48.6 284.2 L52.1 279.9Z" fill="#fff" stroke="#383838" stroke-width="0.9" />
<path d="M58.0 263.5 L55.7 271.7 L52.1 279.9" fill="none" stroke="#222" stroke-width="1.2" />
<path d="M34.0 228.0 L34.4 226.6 L36.0 226.0 L38.2 226.6 L39.0 228.0 L39.5 254.0 L32.9 272.3 L28.1 272.4 L34.0 251.0Z" fill="#fff" stroke="#383838" stroke-width="0.9" />
<path d="M36.0 227.0 L36.4 252.0 L30.6 272.1" fill="none" stroke="#383838" stroke-width="0.6" />
<path d="M42.0 254.0 L45.0 252.5 L58.0 258.5 L55.0 260.5Z" fill="#e4e4e4" stroke="#383838" stroke-width="0.6" />
<path d="M42.0 254.0 L55.0 260.5 L55.0 262.0 L42.0 255.5Z" fill="#bbb" stroke="#383838" stroke-width="0.5" />
<path d="M66.2 262.2 C69.5 260.8 71.6 263.5 70.6 266.3 C69.6 269.2 65.6 269.8 64.2 267.2 C63.7 266.2 64 265.2 64.8 264.8" fill="none" stroke="#555" stroke-width="2.1" stroke-linecap="round"/>
<path d="M66.2 262.2 C69.5 260.8 71.6 263.5 70.6 266.3 C69.6 269.2 65.6 269.8 64.2 267.2 C63.7 266.2 64 265.2 64.8 264.8" fill="none" stroke="#fff" stroke-width="0.9" stroke-linecap="round"/>
<circle cx="82.7" cy="263.7" r="0.8" fill="#333"/>
<circle cx="52.4" cy="279.3" r="0.8" fill="#222"/>
<path d="M39.0 235.8 L43.5 233.3 L45.0 234.0 L45.0 251.6 L39.0 250.2Z" fill="#111" stroke="#111" stroke-width="0.5" />
<path d="M44.2 237.3 C44.8 235.8 46 235 48 235 L59.7 235.6 C63 236 68 238.5 72.5 242.5 L66 261 L61.9 259.2 L43.8 250.6 C43.2 247 43.4 241 44.2 237.3Z" fill="#343434" stroke="#222" stroke-width="0.6" />
<path d="M44.4 239.2 L61 245.6 C60.2 250 60.4 255 61.9 259.2 L43.8 250.6 C43.4 247 43.6 242 44.4 239.2Z" fill="#585858" stroke="none" stroke-width="0.9" />
<path d="M45.2 241.2 L60.8 247.5" stroke="#9c9c9c" stroke-width="0.5" fill="none"/>
<path d="M45.2 242.9 L60.8 249.6" stroke="#9c9c9c" stroke-width="0.5" fill="none"/>
<path d="M45.2 244.6 L60.8 251.7" stroke="#9c9c9c" stroke-width="0.5" fill="none"/>
<path d="M45.2 246.4 L60.8 253.9" stroke="#9c9c9c" stroke-width="0.5" fill="none"/>
<path d="M45.2 248.1 L60.8 256.0" stroke="#9c9c9c" stroke-width="0.5" fill="none"/>
<path d="M45.2 249.8 L60.8 258.1" stroke="#9c9c9c" stroke-width="0.5" fill="none"/>
<path d="M45.4 239.4 L60.6 245.3" stroke="#c4c4c4" stroke-width="0.7" fill="none"/>
<path d="M66.6 244.3C65.9 245.1 63.6 247.3 62.6 248.9C61.6 250.5 60.8 252.3 60.7 254.0C60.6 255.7 61.7 258.3 61.9 259.2 L65.0 260.6C64.8 260.1 64.2 259.0 63.9 257.6C63.6 256.2 63.0 254.2 63.3 252.5C63.6 250.8 64.4 249.1 65.5 247.5C66.6 245.9 69.2 243.8 70.0 243.0Z" fill="#d4d4d4" stroke="#555" stroke-width="0.4" />
<ellipse cx="71.1" cy="251.7" rx="6.1" ry="8.4" transform="rotate(14 71.1 251.7)" fill="#2f2f2f" stroke="#222" stroke-width="0.5"/>
<ellipse cx="71.5" cy="252" rx="5.2" ry="7" transform="rotate(14 71.5 252)" fill="#444" stroke="#262626" stroke-width="0.5"/>
<ellipse cx="71.5" cy="252.6" rx="3.1" ry="4.3" transform="rotate(14 71.5 252.6)" fill="#5e5e5e" stroke="none"/>
<path d="M45.6 231.2 L53.6 235.9 L53.6 238.9 L45.6 234.2Z" fill="#9a9a9a" stroke="#383838" stroke-width="0.5" />
<path d="M53.6 235.9 L61.9 231.9 L61.9 234.9 L53.6 238.9Z" fill="#777" stroke="#383838" stroke-width="0.5" />
<path d="M45.6 231.2 L52.5 227.7 L61.9 231.9 L53.6 235.9Z" fill="#e2e2e2" stroke="#383838" stroke-width="0.6" />
<path d="M47.3 231.2 L52.5 228.7 L60.0 231.9 L53.7 234.9Z" fill="none" stroke="#999" stroke-width="0.35" /></g></g>
<g id="L0" transform="translate(94.0 148) scale(-1 1)"><path d="M14.3 252.5C14.2 250.8 13.3 245.6 13.6 242.0C13.9 238.4 14.5 234.7 16.0 231.0C17.5 227.3 20.0 223.2 22.5 220.0C25.0 216.8 28.1 213.8 31.0 211.5C33.9 209.2 37.5 207.5 40.0 206.5C42.5 205.5 44.0 205.4 46.0 205.5C48.0 205.6 49.7 206.0 52.0 207.0C54.3 208.0 57.7 209.7 60.0 211.5C62.3 213.3 64.4 215.6 66.0 218.0C67.6 220.4 68.7 223.2 69.5 226.0C70.3 228.8 70.8 232.2 71.0 235.0C71.2 237.8 70.6 241.7 70.5 243.0 L70 246 L40 250 L24.5 258.5 Z" fill="#fff" stroke="none" stroke-width="0.9" />
<path d="M14.3 252.5C14.2 250.8 13.3 245.6 13.6 242.0C13.9 238.4 14.5 234.7 16.0 231.0C17.5 227.3 20.0 223.2 22.5 220.0C25.0 216.8 28.1 213.8 31.0 211.5C33.9 209.2 37.5 207.5 40.0 206.5C42.5 205.5 44.0 205.4 46.0 205.5C48.0 205.6 49.7 206.0 52.0 207.0C54.3 208.0 57.7 209.7 60.0 211.5C62.3 213.3 64.4 215.6 66.0 218.0C67.6 220.4 68.7 223.2 69.5 226.0C70.3 228.8 70.8 232.2 71.0 235.0C71.2 237.8 70.6 241.7 70.5 243.0" fill="none" stroke="#4a4a4a" stroke-width="0.75" />
<path d="M24.5 258.5C24.5 257.1 24.5 252.8 24.6 250.0C24.7 247.2 24.3 245.2 25.0 242.0C25.7 238.8 27.3 234.3 29.0 231.0C30.7 227.7 32.7 224.7 35.0 222.0C37.3 219.3 40.5 216.7 43.0 215.0C45.5 213.3 47.7 212.7 50.0 212.0C52.3 211.3 55.3 211.1 57.0 211.0C58.7 210.9 59.5 211.4 60.0 211.5" fill="none" stroke="#222" stroke-width="1.15" />
<path d="M53.0 229.0 L53.0 216.5 L56.5 214.5 L57.0 228.5" fill="none" stroke="#383838" stroke-width="0.7" /><path d="M54.6 229.0 L54.6 216.0" fill="none" stroke="#383838" stroke-width="0.5" />
<path d="M45.3 218.4 L48.4 219.4 C51.3 220.5 51.3 224 48.699999999999996 224.6 L45.3 225.8Z" fill="#fff" stroke="#383838" stroke-width="0.7" /><ellipse cx="48.5" cy="222" rx="1.4" ry="1.9" fill="#999" stroke="#444" stroke-width="0.4"/>
<path d="M8.8 251.1 L25.1 258.6 L25.8 289.1 L9.5 281.0Z" fill="#fff" stroke="#383838" stroke-width="0.9" />
<path d="M12.9 256.5 L21.7 260.6 L22.4 284.4 L13.6 279.6Z" fill="#fff" stroke="#383838" stroke-width="0.9" />
<path d="M13.6 279.6 L21.9 272.5 L22.4 284.4" fill="none" stroke="#383838" stroke-width="0.6" />
<path d="M21.9 272.5 L21.7 260.6" fill="none" stroke="#383838" stroke-width="0.5" />
<path d="M8.8 251.1 L10.0 250.3 L26.2 257.7 L25.1 258.6" fill="none" stroke="#383838" stroke-width="0.6" />
<path d="M26.2 257.7 L26.8 288.4 L25.8 289.1" fill="none" stroke="#383838" stroke-width="0.6" />
<rect x="23.2" y="262.5" width="1.6" height="2.4" fill="#aaa"/>
<rect x="23.2" y="267.5" width="1.6" height="2.4" fill="#aaa"/>
<rect x="23.2" y="272.5" width="1.6" height="2.4" fill="#aaa"/>
<rect x="23.2" y="277.5" width="1.6" height="2.4" fill="#aaa"/>
<rect x="23.2" y="282.5" width="1.6" height="2.4" fill="#aaa"/>
<rect x="10.3" y="255.0" width="1.4" height="2.2" fill="#ccc"/>
<rect x="10.3" y="260.2" width="1.4" height="2.2" fill="#ccc"/>
<rect x="10.3" y="265.4" width="1.4" height="2.2" fill="#ccc"/>
<rect x="10.3" y="270.6" width="1.4" height="2.2" fill="#ccc"/>
<rect x="10.3" y="275.8" width="1.4" height="2.2" fill="#ccc"/>
<path d="M24.5 250 C 25.5 254 27 256 29 257" fill="none" stroke="#383838" stroke-width="0.6" /><g transform="translate(0 0)"><path d="M26.8 289.0 L47.0 299.3 L48.0 301.0 L87.0 279.5 L87.0 281.0 L48.0 302.5 L26.3 290.5Z" fill="#fff" stroke="#383838" stroke-width="0.6" />
<path d="M39.5 254.0 L58.0 263.5 L49.3 295.0 L31.0 288.5Z" fill="#fff" stroke="#383838" stroke-width="0.9" />
<path d="M58.0 263.5 L64.0 260.0 L76.0 256.5 L82.5 276.0 L85.0 277.0 L87.0 279.5 L48.0 301.0 L47.0 299.3 L49.3 295.0Z" fill="#fff" stroke="#383838" stroke-width="0.9" />
<path d="M58.0 263.5 L54.2 279.2 L49.3 295.0" fill="none" stroke="#222" stroke-width="1.2" />
<path d="M34.6 227.0 L35.0 225.6 L36.6 225.0 L38.8 225.6 L39.6 227.0 L39.8 254.0 L31.0 288.5 L26.8 289.0 L34.6 250.0Z" fill="#fff" stroke="#383838" stroke-width="0.9" />
<path d="M36.6 226.0 L37.0 250.0 L29.3 288.3" fill="none" stroke="#383838" stroke-width="0.6" />
<path d="M42.0 254.0 L45.0 252.5 L58.0 258.5 L55.0 260.5Z" fill="#e4e4e4" stroke="#383838" stroke-width="0.6" />
<path d="M42.0 254.0 L55.0 260.5 L55.0 262.0 L42.0 255.5Z" fill="#bbb" stroke="#383838" stroke-width="0.5" />
<ellipse cx="67.2" cy="266" rx="2.6" ry="3.9" transform="rotate(12 67.2 266)" fill="none" stroke="#555" stroke-width="2.1"/>
<ellipse cx="67.2" cy="266" rx="2.6" ry="3.9" transform="rotate(12 67.2 266)" fill="none" stroke="#fff" stroke-width="0.9"/>
<circle cx="83.7" cy="276.2" r="0.8" fill="#333"/>
<circle cx="49.5" cy="294.4" r="0.8" fill="#222"/>
<path d="M39.0 235.8 L43.5 233.3 L45.0 234.0 L45.0 251.6 L39.0 250.2Z" fill="#111" stroke="#111" stroke-width="0.5" />
<path d="M44.2 237.3 C44.8 235.8 46 235 48 235 L59.7 235.6 C63 236 68 238.5 72.5 242.5 L66 261 L61.9 259.2 L43.8 250.6 C43.2 247 43.4 241 44.2 237.3Z" fill="#343434" stroke="#222" stroke-width="0.6" />
<path d="M44.4 239.2 L61 245.6 C60.2 250 60.4 255 61.9 259.2 L43.8 250.6 C43.4 247 43.6 242 44.4 239.2Z" fill="#585858" stroke="none" stroke-width="0.9" />
<path d="M45.2 241.2 L60.8 247.5" stroke="#9c9c9c" stroke-width="0.5" fill="none"/>
<path d="M45.2 242.9 L60.8 249.6" stroke="#9c9c9c" stroke-width="0.5" fill="none"/>
<path d="M45.2 244.6 L60.8 251.7" stroke="#9c9c9c" stroke-width="0.5" fill="none"/>
<path d="M45.2 246.4 L60.8 253.9" stroke="#9c9c9c" stroke-width="0.5" fill="none"/>
<path d="M45.2 248.1 L60.8 256.0" stroke="#9c9c9c" stroke-width="0.5" fill="none"/>
<path d="M45.2 249.8 L60.8 258.1" stroke="#9c9c9c" stroke-width="0.5" fill="none"/>
<path d="M45.4 239.4 L60.6 245.3" stroke="#c4c4c4" stroke-width="0.7" fill="none"/>
<path d="M66.6 244.3C65.9 245.1 63.6 247.3 62.6 248.9C61.6 250.5 60.8 252.3 60.7 254.0C60.6 255.7 61.7 258.3 61.9 259.2 L65.0 260.6C64.8 260.1 64.2 259.0 63.9 257.6C63.6 256.2 63.0 254.2 63.3 252.5C63.6 250.8 64.4 249.1 65.5 247.5C66.6 245.9 69.2 243.8 70.0 243.0Z" fill="#d4d4d4" stroke="#555" stroke-width="0.4" />
<ellipse cx="71.1" cy="251.7" rx="6.1" ry="8.4" transform="rotate(14 71.1 251.7)" fill="#2f2f2f" stroke="#222" stroke-width="0.5"/>
<ellipse cx="71.5" cy="252" rx="5.2" ry="7" transform="rotate(14 71.5 252)" fill="#444" stroke="#262626" stroke-width="0.5"/>
<ellipse cx="71.5" cy="252.6" rx="3.1" ry="4.3" transform="rotate(14 71.5 252.6)" fill="#5e5e5e" stroke="none"/>
<path d="M45.6 231.2 L53.6 235.9 L53.6 238.9 L45.6 234.2Z" fill="#9a9a9a" stroke="#383838" stroke-width="0.5" />
<path d="M53.6 235.9 L61.9 231.9 L61.9 234.9 L53.6 238.9Z" fill="#777" stroke="#383838" stroke-width="0.5" />
<path d="M45.6 231.2 L52.5 227.7 L61.9 231.9 L53.6 235.9Z" fill="#e2e2e2" stroke="#383838" stroke-width="0.6" />
<path d="M47.3 231.2 L52.5 228.7 L60.0 231.9 L53.7 234.9Z" fill="none" stroke="#999" stroke-width="0.35" /></g></g>
<g id="L45" transform="translate(303.6 146.2) scale(-1 1)"><path d="M126.5 235.0C127.1 233.8 128.6 230.5 130.0 228.0C131.4 225.5 133.0 222.5 135.0 220.0C137.0 217.5 139.5 214.9 142.0 213.0C144.5 211.1 147.3 209.5 150.0 208.5C152.7 207.5 155.5 207.0 158.0 207.0C160.5 207.0 162.7 207.3 165.0 208.5C167.3 209.7 169.4 211.5 171.7 213.9C174.0 216.3 177.2 219.8 178.7 222.9C180.2 226.1 180.5 229.7 180.7 232.8C180.9 236.0 179.9 240.3 179.7 241.8 L170 250 L146 250 L137.5 243 Z" fill="#fff" stroke="none" stroke-width="0.9" />
<path d="M126.5 235.0C127.1 233.8 128.6 230.5 130.0 228.0C131.4 225.5 133.0 222.5 135.0 220.0C137.0 217.5 139.5 214.9 142.0 213.0C144.5 211.1 147.3 209.5 150.0 208.5C152.7 207.5 155.5 207.0 158.0 207.0C160.5 207.0 162.7 207.3 165.0 208.5C167.3 209.7 169.4 211.5 171.7 213.9C174.0 216.3 177.2 219.8 178.7 222.9C180.2 226.1 180.5 229.7 180.7 232.8C180.9 236.0 179.9 240.3 179.7 241.8" fill="none" stroke="#4a4a4a" stroke-width="0.75" />
<path d="M137.5 243.0C137.9 241.7 138.8 237.8 140.0 235.0C141.2 232.2 143.0 228.7 145.0 226.0C147.0 223.3 149.5 221.0 152.0 219.0C154.5 217.0 157.3 215.2 160.0 214.0C162.7 212.8 166.0 212.1 168.0 212.0C170.0 211.9 171.3 213.4 172.0 213.7" fill="none" stroke="#222" stroke-width="1.15" />
<path d="M165.0 229.0 L165.0 216.5 L168.5 214.5 L169.0 228.5" fill="none" stroke="#383838" stroke-width="0.7" /><path d="M166.6 229.0 L166.6 216.0" fill="none" stroke="#383838" stroke-width="0.5" />
<path d="M157.3 218.4 L160.4 219.4 C163.3 220.5 163.3 224 160.70000000000002 224.6 L157.3 225.8Z" fill="#fff" stroke="#383838" stroke-width="0.7" /><ellipse cx="160.5" cy="222" rx="1.4" ry="1.9" fill="#999" stroke="#444" stroke-width="0.4"/>
<path d="M122.5 232.5 L137.5 242.5 L119.5 270.0 L103.0 262.5Z" fill="#fff" stroke="#383838" stroke-width="0.9" />
<path d="M123.5 236.5 L135.0 243.5 L118.0 266.5 L107.0 261.0Z" fill="#fff" stroke="#383838" stroke-width="0.9" />
<path d="M122.5 232.5 L123.6 231.8 L138.6 241.8 L137.5 242.5" fill="none" stroke="#383838" stroke-width="0.6" />
<path d="M138.6 241.8 L120.6 269.5 L119.5 270.0" fill="none" stroke="#383838" stroke-width="0.6" />
<path d="M107.0 261.0 L112.0 257.5 L118.0 266.5" fill="none" stroke="#383838" stroke-width="0.6" />
<path d="M127 240 C126 244 127.5 248 128.8 248 C130 246 130.5 243.5 133 242.3" fill="none" stroke="#383838" stroke-width="0.6" />
<rect x="119.4" y="237.4" width="1.5" height="2" fill="#bbb"/>
<rect x="133.1" y="245.8" width="1.5" height="2" fill="#aaa"/>
<rect x="115.8" y="242.9" width="1.5" height="2" fill="#bbb"/>
<rect x="129.6" y="250.9" width="1.5" height="2" fill="#aaa"/>
<rect x="112.2" y="248.4" width="1.5" height="2" fill="#bbb"/>
<rect x="126.1" y="256.0" width="1.5" height="2" fill="#aaa"/>
<rect x="108.6" y="253.9" width="1.5" height="2" fill="#bbb"/>
<rect x="122.5" y="261.1" width="1.5" height="2" fill="#aaa"/>
<rect x="105.5" y="258.6" width="1.5" height="2" fill="#bbb"/>
<rect x="119.5" y="265.5" width="1.5" height="2" fill="#aaa"/>
<path d="M124.0 269.5 L127.0 268.0 L133.5 268.5 L138.0 278.5 L138.0 281.0 L123.5 271.5Z" fill="#fff" stroke="#383838" stroke-width="0.7" />
<path d="M127.0 268.0 L128.0 271.0 L138.0 278.5" fill="none" stroke="#383838" stroke-width="0.5" /><g transform="translate(112 0)"><path d="M26.5 278.5 L47.0 288.8 L48.0 290.5 L87.5 268.5 L87.5 270.0 L48.0 292.0 L26.0 280.0Z" fill="#fff" stroke="#383838" stroke-width="0.6" />
<path d="M39.5 254.0 L58.0 263.5 L50.5 284.5 L31.0 277.5Z" fill="#fff" stroke="#383838" stroke-width="0.9" />
<path d="M58.0 263.5 L64.0 260.0 L76.0 256.3 L83.0 265.5 L85.5 266.5 L87.5 268.5 L48.0 290.5 L47.0 288.8 L50.5 284.5Z" fill="#fff" stroke="#383838" stroke-width="0.9" />
<path d="M58.0 263.5 L54.9 274.0 L50.5 284.5" fill="none" stroke="#222" stroke-width="1.2" />
<path d="M33.0 228.0 L33.4 226.6 L35.0 226.0 L37.2 226.6 L38.0 228.0 L39.5 254.0 L31.0 277.5 L26.5 278.5 L33.0 251.0Z" fill="#fff" stroke="#383838" stroke-width="0.9" />
<path d="M35.0 227.0 L35.4 252.0 L29.0 277.8" fill="none" stroke="#383838" stroke-width="0.6" />
<path d="M42.0 254.0 L45.0 252.5 L58.0 258.5 L55.0 260.5Z" fill="#e4e4e4" stroke="#383838" stroke-width="0.6" />
<path d="M42.0 254.0 L55.0 260.5 L55.0 262.0 L42.0 255.5Z" fill="#bbb" stroke="#383838" stroke-width="0.5" />
<path d="M66.2 262.2 C69.5 260.8 71.6 263.5 70.6 266.3 C69.6 269.2 65.6 269.8 64.2 267.2 C63.7 266.2 64 265.2 64.8 264.8" fill="none" stroke="#555" stroke-width="2.1" stroke-linecap="round"/>
<path d="M66.2 262.2 C69.5 260.8 71.6 263.5 70.6 266.3 C69.6 269.2 65.6 269.8 64.2 267.2 C63.7 266.2 64 265.2 64.8 264.8" fill="none" stroke="#fff" stroke-width="0.9" stroke-linecap="round"/>
<circle cx="84.2" cy="265.7" r="0.8" fill="#333"/>
<circle cx="50.7" cy="283.9" r="0.8" fill="#222"/>
<path d="M39.0 235.8 L43.5 233.3 L45.0 234.0 L45.0 251.6 L39.0 250.2Z" fill="#111" stroke="#111" stroke-width="0.5" />
<path d="M44.2 237.3 C44.8 235.8 46 235 48 235 L59.7 235.6 C63 236 68 238.5 72.5 242.5 L66 261 L61.9 259.2 L43.8 250.6 C43.2 247 43.4 241 44.2 237.3Z" fill="#343434" stroke="#222" stroke-width="0.6" />
<path d="M44.4 239.2 L61 245.6 C60.2 250 60.4 255 61.9 259.2 L43.8 250.6 C43.4 247 43.6 242 44.4 239.2Z" fill="#585858" stroke="none" stroke-width="0.9" />
<path d="M45.2 241.2 L60.8 247.5" stroke="#9c9c9c" stroke-width="0.5" fill="none"/>
<path d="M45.2 242.9 L60.8 249.6" stroke="#9c9c9c" stroke-width="0.5" fill="none"/>
<path d="M45.2 244.6 L60.8 251.7" stroke="#9c9c9c" stroke-width="0.5" fill="none"/>
<path d="M45.2 246.4 L60.8 253.9" stroke="#9c9c9c" stroke-width="0.5" fill="none"/>
<path d="M45.2 248.1 L60.8 256.0" stroke="#9c9c9c" stroke-width="0.5" fill="none"/>
<path d="M45.2 249.8 L60.8 258.1" stroke="#9c9c9c" stroke-width="0.5" fill="none"/>
<path d="M45.4 239.4 L60.6 245.3" stroke="#c4c4c4" stroke-width="0.7" fill="none"/>
<path d="M66.6 244.3C65.9 245.1 63.6 247.3 62.6 248.9C61.6 250.5 60.8 252.3 60.7 254.0C60.6 255.7 61.7 258.3 61.9 259.2 L65.0 260.6C64.8 260.1 64.2 259.0 63.9 257.6C63.6 256.2 63.0 254.2 63.3 252.5C63.6 250.8 64.4 249.1 65.5 247.5C66.6 245.9 69.2 243.8 70.0 243.0Z" fill="#d4d4d4" stroke="#555" stroke-width="0.4" />
<ellipse cx="71.1" cy="251.7" rx="6.1" ry="8.4" transform="rotate(14 71.1 251.7)" fill="#2f2f2f" stroke="#222" stroke-width="0.5"/>
<ellipse cx="71.5" cy="252" rx="5.2" ry="7" transform="rotate(14 71.5 252)" fill="#444" stroke="#262626" stroke-width="0.5"/>
<ellipse cx="71.5" cy="252.6" rx="3.1" ry="4.3" transform="rotate(14 71.5 252.6)" fill="#5e5e5e" stroke="none"/>
<path d="M45.6 231.2 L53.6 235.9 L53.6 238.9 L45.6 234.2Z" fill="#9a9a9a" stroke="#383838" stroke-width="0.5" />
<path d="M53.6 235.9 L61.9 231.9 L61.9 234.9 L53.6 238.9Z" fill="#777" stroke="#383838" stroke-width="0.5" />
<path d="M45.6 231.2 L52.5 227.7 L61.9 231.9 L53.6 235.9Z" fill="#e2e2e2" stroke="#383838" stroke-width="0.6" />
<path d="M47.3 231.2 L52.5 228.7 L60.0 231.9 L53.7 234.9Z" fill="none" stroke="#999" stroke-width="0.35" /></g></g>
<g id="L90" transform="translate(502.6 146.5) scale(-1 1)"><path d="M243.0 216.0C243.8 215.4 245.8 213.5 248.0 212.5C250.2 211.5 253.3 210.3 256.0 210.0C258.7 209.7 261.7 210.0 264.0 210.5C266.3 211.0 267.9 211.8 270.0 213.0C272.1 214.2 274.9 215.4 276.7 217.9C278.5 220.4 280.0 224.4 280.7 227.9C281.4 231.4 280.9 237.0 281.0 238.8 L270 250 L248 250 L240 225 Z" fill="#fff" stroke="none" stroke-width="0.9" />
<path d="M243.0 216.0C243.8 215.4 245.8 213.5 248.0 212.5C250.2 211.5 253.3 210.3 256.0 210.0C258.7 209.7 261.7 210.0 264.0 210.5C266.3 211.0 267.9 211.8 270.0 213.0C272.1 214.2 274.9 215.4 276.7 217.9C278.5 220.4 280.0 224.4 280.7 227.9C281.4 231.4 280.9 237.0 281.0 238.8" fill="none" stroke="#4a4a4a" stroke-width="0.75" />
<path d="M248.0 228.5C248.7 227.6 250.3 224.7 252.0 223.0C253.7 221.3 255.8 219.7 258.0 218.5C260.2 217.3 263.0 216.4 265.0 215.8C267.0 215.2 268.2 214.8 270.0 215.0C271.8 215.2 274.6 216.5 275.5 216.8" fill="none" stroke="#222" stroke-width="1.15" />
<path d="M267.0 233.0 L267.0 220.5 L270.5 218.5 L271.0 232.5" fill="none" stroke="#383838" stroke-width="0.7" /><path d="M268.6 233.0 L268.6 220.0" fill="none" stroke="#383838" stroke-width="0.5" />
<path d="M258.29999999999995 223.4 L261.4 224.4 C264.29999999999995 225.5 264.29999999999995 229 261.7 229.6 L258.29999999999995 230.8Z" fill="#fff" stroke="#383838" stroke-width="0.7" /><ellipse cx="261.5" cy="227" rx="1.4" ry="1.9" fill="#999" stroke="#444" stroke-width="0.4"/>
<path d="M215.0 233.0C215.3 235.0 216.2 241.3 217.0 245.0C217.8 248.7 218.8 252.5 220.0 255.0C221.2 257.5 222.8 258.5 224.0 260.0C225.2 261.5 226.9 263.3 227.5 264.0 L238.5 269 L248 260 L249.5 223 L226 237 Z" fill="#fff" stroke="none" stroke-width="0.9" />
<path d="M215.0 233.0C215.3 235.0 216.2 241.3 217.0 245.0C217.8 248.7 218.8 252.5 220.0 255.0C221.2 257.5 222.8 258.5 224.0 260.0C225.2 261.5 226.9 263.3 227.5 264.0" fill="none" stroke="#383838" stroke-width="0.9" />
<path d="M226.0 237.0C226.2 238.7 226.7 243.7 227.5 247.0C228.3 250.3 229.9 254.2 231.0 257.0C232.1 259.8 232.8 262.0 234.0 264.0C235.2 266.0 237.8 268.2 238.5 269.0" fill="none" stroke="#383838" stroke-width="0.9" />
<path d="M249.5 223.0 L248.0 229.5" fill="none" stroke="#383838" stroke-width="0.7" />
<path d="M227.5 264.0 L227.5 272.0" fill="none" stroke="#383838" stroke-width="0.7" />
<path d="M238.5 269.0 L238.5 278.5" fill="none" stroke="#383838" stroke-width="0.7" />
<path d="M224.5 271.5 L227.5 270.3" fill="none" stroke="#383838" stroke-width="0.6" />
<path d="M224.5 271.5 L239.0 279.0 L239.0 280.5 L224.5 273.0Z" fill="#fff" stroke="#383838" stroke-width="0.6" />
<path d="M229.0 272.0 L236.0 268.0 L238.5 269.0" fill="none" stroke="#383838" stroke-width="0.5" />
<path d="M209.5 229.0 L236.5 214.5 L250.0 222.0 L225.5 237.0Z" fill="#fff" stroke="#383838" stroke-width="0.9" />
<path d="M215.0 229.0 L237.0 217.5 L247.0 222.5 L226.0 234.5Z" fill="#fff" stroke="#383838" stroke-width="0.9" />
<path d="M209.5 229.0 L209.6 230.2 L225.5 238.2 L250.0 223.2 L250.0 222.0" fill="none" stroke="#383838" stroke-width="0.6" />
<path d="M237.0 217.5 L236.0 224.0 L232.0 230.5" fill="none" stroke="#383838" stroke-width="0.6" />
<path d="M240.5 219.3 L238.5 225.0 L234.5 229.5" fill="none" stroke="#383838" stroke-width="0.5" />
<rect x="214.7" y="226.5" width="2" height="1.2" fill="#bbb"/>
<rect x="228.4" y="233.2" width="2" height="1.2" fill="#bbb"/>
<rect x="220.3" y="223.5" width="2" height="1.2" fill="#bbb"/>
<rect x="233.6" y="230.1" width="2" height="1.2" fill="#bbb"/>
<rect x="226.2" y="220.3" width="2" height="1.2" fill="#bbb"/>
<rect x="238.9" y="226.8" width="2" height="1.2" fill="#bbb"/>
<rect x="231.8" y="217.3" width="2" height="1.2" fill="#bbb"/>
<rect x="244.1" y="223.7" width="2" height="1.2" fill="#bbb"/><g transform="translate(214 0)"><path d="M26.5 278.5 L47.0 288.8 L48.0 290.5 L87.5 268.5 L87.5 270.0 L48.0 292.0 L26.0 280.0Z" fill="#fff" stroke="#383838" stroke-width="0.6" />
<path d="M39.5 254.0 L58.0 263.5 L50.5 284.5 L31.0 277.5Z" fill="#fff" stroke="#383838" stroke-width="0.9" />
<path d="M58.0 263.5 L64.0 260.0 L76.0 256.3 L83.0 265.5 L85.5 266.5 L87.5 268.5 L48.0 290.5 L47.0 288.8 L50.5 284.5Z" fill="#fff" stroke="#383838" stroke-width="0.9" />
<path d="M58.0 263.5 L54.9 274.0 L50.5 284.5" fill="none" stroke="#222" stroke-width="1.2" />
<path d="M33.0 231.0 L33.4 229.6 L35.0 229.0 L37.2 229.6 L38.0 231.0 L39.5 254.0 L31.0 277.5 L26.5 278.5 L33.0 251.0Z" fill="#fff" stroke="#383838" stroke-width="0.9" />
<path d="M35.0 230.0 L35.4 252.0 L29.0 277.8" fill="none" stroke="#383838" stroke-width="0.6" />
<path d="M42.0 254.0 L45.0 252.5 L58.0 258.5 L55.0 260.5Z" fill="#e4e4e4" stroke="#383838" stroke-width="0.6" />
<path d="M42.0 254.0 L55.0 260.5 L55.0 262.0 L42.0 255.5Z" fill="#bbb" stroke="#383838" stroke-width="0.5" />
<path d="M66.2 262.2 C69.5 260.8 71.6 263.5 70.6 266.3 C69.6 269.2 65.6 269.8 64.2 267.2 C63.7 266.2 64 265.2 64.8 264.8" fill="none" stroke="#555" stroke-width="2.1" stroke-linecap="round"/>
<path d="M66.2 262.2 C69.5 260.8 71.6 263.5 70.6 266.3 C69.6 269.2 65.6 269.8 64.2 267.2 C63.7 266.2 64 265.2 64.8 264.8" fill="none" stroke="#fff" stroke-width="0.9" stroke-linecap="round"/>
<circle cx="84.2" cy="265.7" r="0.8" fill="#333"/>
<circle cx="50.7" cy="283.9" r="0.8" fill="#222"/>
<path d="M39.0 235.8 L43.5 233.3 L45.0 234.0 L45.0 251.6 L39.0 250.2Z" fill="#111" stroke="#111" stroke-width="0.5" />
<path d="M44.2 237.3 C44.8 235.8 46 235 48 235 L59.7 235.6 C63 236 68 238.5 72.5 242.5 L66 261 L61.9 259.2 L43.8 250.6 C43.2 247 43.4 241 44.2 237.3Z" fill="#343434" stroke="#222" stroke-width="0.6" />
<path d="M44.4 239.2 L61 245.6 C60.2 250 60.4 255 61.9 259.2 L43.8 250.6 C43.4 247 43.6 242 44.4 239.2Z" fill="#585858" stroke="none" stroke-width="0.9" />
<path d="M45.2 241.2 L60.8 247.5" stroke="#9c9c9c" stroke-width="0.5" fill="none"/>
<path d="M45.2 242.9 L60.8 249.6" stroke="#9c9c9c" stroke-width="0.5" fill="none"/>
<path d="M45.2 244.6 L60.8 251.7" stroke="#9c9c9c" stroke-width="0.5" fill="none"/>
<path d="M45.2 246.4 L60.8 253.9" stroke="#9c9c9c" stroke-width="0.5" fill="none"/>
<path d="M45.2 248.1 L60.8 256.0" stroke="#9c9c9c" stroke-width="0.5" fill="none"/>
<path d="M45.2 249.8 L60.8 258.1" stroke="#9c9c9c" stroke-width="0.5" fill="none"/>
<path d="M45.4 239.4 L60.6 245.3" stroke="#c4c4c4" stroke-width="0.7" fill="none"/>
<path d="M66.6 244.3C65.9 245.1 63.6 247.3 62.6 248.9C61.6 250.5 60.8 252.3 60.7 254.0C60.6 255.7 61.7 258.3 61.9 259.2 L65.0 260.6C64.8 260.1 64.2 259.0 63.9 257.6C63.6 256.2 63.0 254.2 63.3 252.5C63.6 250.8 64.4 249.1 65.5 247.5C66.6 245.9 69.2 243.8 70.0 243.0Z" fill="#d4d4d4" stroke="#555" stroke-width="0.4" />
<ellipse cx="71.1" cy="251.7" rx="6.1" ry="8.4" transform="rotate(14 71.1 251.7)" fill="#2f2f2f" stroke="#222" stroke-width="0.5"/>
<ellipse cx="71.5" cy="252" rx="5.2" ry="7" transform="rotate(14 71.5 252)" fill="#444" stroke="#262626" stroke-width="0.5"/>
<ellipse cx="71.5" cy="252.6" rx="3.1" ry="4.3" transform="rotate(14 71.5 252.6)" fill="#5e5e5e" stroke="none"/>
<path d="M45.6 231.2 L53.6 235.9 L53.6 238.9 L45.6 234.2Z" fill="#9a9a9a" stroke="#383838" stroke-width="0.5" />
<path d="M53.6 235.9 L61.9 231.9 L61.9 234.9 L53.6 238.9Z" fill="#777" stroke="#383838" stroke-width="0.5" />
<path d="M45.6 231.2 L52.5 227.7 L61.9 231.9 L53.6 235.9Z" fill="#e2e2e2" stroke="#383838" stroke-width="0.6" />
<path d="M47.3 231.2 L52.5 228.7 L60.0 231.9 L53.7 234.9Z" fill="none" stroke="#999" stroke-width="0.35" /></g></g>
<g id="L270" transform="translate(1303.1 135) scale(-1 1)"><path d="M627.0 259.0C626.9 257.5 626.2 252.8 626.5 250.0C626.8 247.2 627.4 244.2 628.5 242.0C629.6 239.8 631.2 237.8 633.0 236.5C634.8 235.2 636.8 234.8 639.0 234.5C641.2 234.2 643.7 234.3 646.0 235.0C648.3 235.7 650.7 236.8 653.0 238.5C655.3 240.2 657.8 242.6 660.0 245.0C662.2 247.4 664.0 249.8 666.0 253.0C668.0 256.2 670.2 260.3 672.0 264.0C673.8 267.7 675.2 271.0 676.5 275.0C677.8 279.0 678.7 284.2 679.5 288.0C680.3 291.8 681.0 295.4 681.5 298.0C682.0 300.6 682.3 302.6 682.5 303.5 L695 296.5 L695 296.5 L694 291 L692 282 L689.5 270 L686 261 L682 253 L676 244 L669 236 L661 231 L653 228.5 L645 229.5 L639 232.5 L633 236.5 Z" fill="#fff" stroke="none" stroke-width="0.9" />
<path d="M639.0 232.5C640.0 232.0 642.7 230.2 645.0 229.5C647.3 228.8 650.3 228.2 653.0 228.5C655.7 228.8 658.3 229.8 661.0 231.0C663.7 232.2 666.5 233.8 669.0 236.0C671.5 238.2 673.8 241.2 676.0 244.0C678.2 246.8 680.3 250.2 682.0 253.0C683.7 255.8 684.8 258.2 686.0 261.0C687.2 263.8 688.5 266.5 689.5 270.0C690.5 273.5 691.2 278.5 692.0 282.0C692.8 285.5 693.5 288.6 694.0 291.0C694.5 293.4 694.8 295.6 695.0 296.5" fill="none" stroke="#4a4a4a" stroke-width="0.75" />
<path d="M627.0 259.0C626.9 257.5 626.2 252.8 626.5 250.0C626.8 247.2 627.4 244.2 628.5 242.0C629.6 239.8 631.2 237.8 633.0 236.5C634.8 235.2 636.8 234.8 639.0 234.5C641.2 234.2 643.7 234.3 646.0 235.0C648.3 235.7 650.7 236.8 653.0 238.5C655.3 240.2 657.8 242.6 660.0 245.0C662.2 247.4 664.0 249.8 666.0 253.0C668.0 256.2 670.2 260.3 672.0 264.0C673.8 267.7 675.2 271.0 676.5 275.0C677.8 279.0 678.7 284.2 679.5 288.0C680.3 291.8 681.0 295.4 681.5 298.0C682.0 300.6 682.3 302.6 682.5 303.5" fill="none" stroke="#222" stroke-width="1.15" />
<path d="M639 234.5 L639 232.5" fill="none" stroke="#383838" stroke-width="0.5" />
<path d="M667.0 296.5 L682.5 304.0 L698.0 297.0 L698.0 298.5 L682.5 305.6 L667.0 298.0Z" fill="#fff" stroke="#383838" stroke-width="0.7" />
<path d="M695.0 296.5 L698.0 297.0" fill="none" stroke="#383838" stroke-width="0.6" />
<path d="M684.5 301.8 L694.8 297.3" fill="none" stroke="#383838" stroke-width="0.5" />
<path d="M646.8 239.9 L649.9 240.9 C652.8 242.0 652.8 245.5 650.1999999999999 246.1 L646.8 247.3Z" fill="#fff" stroke="#383838" stroke-width="0.7" /><ellipse cx="650.0" cy="243.5" rx="1.4" ry="1.9" fill="#999" stroke="#444" stroke-width="0.4"/>
<path d="M640.3 252.0 L640.3 239.5 L637.0 237.5 L636.6 251.5" fill="none" stroke="#383838" stroke-width="0.7" /><path d="M638.7 252.0 L638.7 239.0" fill="none" stroke="#383838" stroke-width="0.5" /><g transform="translate(694 24) scale(-1 1)"><path d="M28.0 273.0 L48.5 284.6 L49.5 286.3 L86.1 266.7 L86.1 268.2 L49.5 287.8 L27.5 274.5Z" fill="#fff" stroke="#383838" stroke-width="0.6" />
<path d="M39.5 254.0 L58.0 263.5 L52.0 280.3 L32.7 272.8Z" fill="#fff" stroke="#383838" stroke-width="0.9" />
<path d="M58.0 263.5 L64.0 260.0 L76.0 256.3 L81.6 263.7 L84.1 264.7 L86.1 266.7 L49.5 286.3 L48.5 284.6 L52.0 280.3Z" fill="#fff" stroke="#383838" stroke-width="0.9" />
<path d="M58.0 263.5 L55.6 271.9 L52.0 280.3" fill="none" stroke="#222" stroke-width="1.2" />
<path d="M34.0 227.0 L34.4 225.6 L36.0 225.0 L38.2 225.6 L39.0 227.0 L39.5 254.0 L32.7 272.8 L28.0 273.0 L34.0 251.0Z" fill="#fff" stroke="#383838" stroke-width="0.9" />
<path d="M36.0 226.0 L36.4 252.0 L30.5 272.6" fill="none" stroke="#383838" stroke-width="0.6" />
<path d="M42.0 254.0 L45.0 252.5 L58.0 258.5 L55.0 260.5Z" fill="#e4e4e4" stroke="#383838" stroke-width="0.6" />
<path d="M42.0 254.0 L55.0 260.5 L55.0 262.0 L42.0 255.5Z" fill="#bbb" stroke="#383838" stroke-width="0.5" />
<path d="M66.2 262.2 C69.5 260.8 71.6 263.5 70.6 266.3 C69.6 269.2 65.6 269.8 64.2 267.2 C63.7 266.2 64 265.2 64.8 264.8" fill="none" stroke="#555" stroke-width="2.1" stroke-linecap="round"/>
<path d="M66.2 262.2 C69.5 260.8 71.6 263.5 70.6 266.3 C69.6 269.2 65.6 269.8 64.2 267.2 C63.7 266.2 64 265.2 64.8 264.8" fill="none" stroke="#fff" stroke-width="0.9" stroke-linecap="round"/>
<circle cx="82.8" cy="263.9" r="0.8" fill="#333"/>
<circle cx="52.2" cy="279.7" r="0.8" fill="#222"/>
<path d="M39.0 235.8 L43.5 233.3 L45.0 234.0 L45.0 251.6 L39.0 250.2Z" fill="#111" stroke="#111" stroke-width="0.5" />
<path d="M44.2 237.3 C44.8 235.8 46 235 48 235 L59.7 235.6 C63 236 68 238.5 72.5 242.5 L66 261 L61.9 259.2 L43.8 250.6 C43.2 247 43.4 241 44.2 237.3Z" fill="#343434" stroke="#222" stroke-width="0.6" />
<path d="M44.4 239.2 L61 245.6 C60.2 250 60.4 255 61.9 259.2 L43.8 250.6 C43.4 247 43.6 242 44.4 239.2Z" fill="#585858" stroke="none" stroke-width="0.9" />
<path d="M45.2 241.2 L60.8 247.5" stroke="#9c9c9c" stroke-width="0.5" fill="none"/>
<path d="M45.2 242.9 L60.8 249.6" stroke="#9c9c9c" stroke-width="0.5" fill="none"/>
<path d="M45.2 244.6 L60.8 251.7" stroke="#9c9c9c" stroke-width="0.5" fill="none"/>
<path d="M45.2 246.4 L60.8 253.9" stroke="#9c9c9c" stroke-width="0.5" fill="none"/>
<path d="M45.2 248.1 L60.8 256.0" stroke="#9c9c9c" stroke-width="0.5" fill="none"/>
<path d="M45.2 249.8 L60.8 258.1" stroke="#9c9c9c" stroke-width="0.5" fill="none"/>
<path d="M45.4 239.4 L60.6 245.3" stroke="#c4c4c4" stroke-width="0.7" fill="none"/>
<path d="M66.6 244.3C65.9 245.1 63.6 247.3 62.6 248.9C61.6 250.5 60.8 252.3 60.7 254.0C60.6 255.7 61.7 258.3 61.9 259.2 L65.0 260.6C64.8 260.1 64.2 259.0 63.9 257.6C63.6 256.2 63.0 254.2 63.3 252.5C63.6 250.8 64.4 249.1 65.5 247.5C66.6 245.9 69.2 243.8 70.0 243.0Z" fill="#d4d4d4" stroke="#555" stroke-width="0.4" />
<ellipse cx="71.1" cy="251.7" rx="6.1" ry="8.4" transform="rotate(14 71.1 251.7)" fill="#2f2f2f" stroke="#222" stroke-width="0.5"/>
<ellipse cx="71.5" cy="252" rx="5.2" ry="7" transform="rotate(14 71.5 252)" fill="#444" stroke="#262626" stroke-width="0.5"/>
<ellipse cx="71.5" cy="252.6" rx="3.1" ry="4.3" transform="rotate(14 71.5 252.6)" fill="#5e5e5e" stroke="none"/>
<path d="M45.6 231.2 L53.6 235.9 L53.6 238.9 L45.6 234.2Z" fill="#9a9a9a" stroke="#383838" stroke-width="0.5" />
<path d="M53.6 235.9 L61.9 231.9 L61.9 234.9 L53.6 238.9Z" fill="#777" stroke="#383838" stroke-width="0.5" />
<path d="M45.6 231.2 L52.5 227.7 L61.9 231.9 L53.6 235.9Z" fill="#e2e2e2" stroke="#383838" stroke-width="0.6" />
<path d="M47.3 231.2 L52.5 228.7 L60.0 231.9 L53.7 234.9Z" fill="none" stroke="#999" stroke-width="0.35" /></g></g></g>
<g><text x="46.6" y="328.3" text-anchor="middle">R0</text><text x="157.6" y="328.3" text-anchor="middle">R45</text><text x="260.6" y="328.3" text-anchor="middle">R90</text><text x="361.6" y="328.3" text-anchor="middle">R135</text><text x="459.1" y="328.3" text-anchor="middle">R180</text><text x="550.6" y="328.3" text-anchor="middle">R225</text><text x="654.6" y="328.3" text-anchor="middle">R270</text><text x="46.1" y="476.3" text-anchor="middle">L0</text><text x="147.1" y="476.3" text-anchor="middle">L45</text><text x="246.6" y="476.3" text-anchor="middle">L90</text><text x="352.6" y="476.3" text-anchor="middle">L135</text><text x="457.1" y="476.3" text-anchor="middle">L180</text><text x="561.6" y="476.3" text-anchor="middle">L225</text><text x="654.6" y="476.3" text-anchor="middle">L270</text></g>
</svg>
</body></html>
